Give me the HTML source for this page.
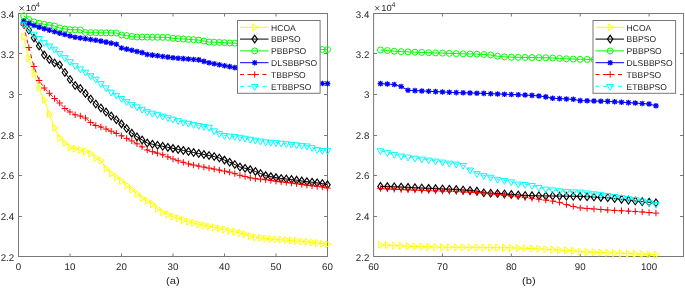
<!DOCTYPE html>
<html><head><meta charset="utf-8"><style>
html,body{margin:0;padding:0;background:#fff;}
svg{display:block;will-change:transform;}
text{text-rendering:geometricPrecision;font-family:"Liberation Sans", sans-serif;font-size:10px;fill:#262626;}
</style></head><body>
<svg width="685" height="288" viewBox="0 0 685 288">
<rect width="685" height="288" fill="#fff"/>
<rect x="18.5" y="13.5" width="309.0" height="243.0" fill="none" stroke="#787878" stroke-width="1"/>
<path d="M70.00,256.5V253.5M70.00,13.5V16.5M121.50,256.5V253.5M121.50,13.5V16.5M173.00,256.5V253.5M173.00,13.5V16.5M224.50,256.5V253.5M224.50,13.5V16.5M276.00,256.5V253.5M276.00,13.5V16.5M18.5,53.50H22.0M327.5,53.50H324.0M18.5,94.50H22.0M327.5,94.50H324.0M18.5,135.50H22.0M327.5,135.50H324.0M18.5,175.50H22.0M327.5,175.50H324.0M18.5,216.50H22.0M327.5,216.50H324.0" stroke="#787878" stroke-width="1"/>
<clipPath id="c18"><rect x="18.5" y="13.5" width="309.0" height="243.0"/></clipPath>
<g clip-path="url(#c18)">
<path d="M23.65,37.00L28.80,58.50L33.95,73.50L39.10,88.00L44.25,100.00L49.40,114.00L54.55,128.00L59.70,138.00L64.85,143.00L70.00,147.50L75.15,148.80L80.30,150.00L85.45,151.40L90.60,153.50L95.75,158.00L100.90,160.50L106.05,168.50L111.20,173.50L116.35,177.25L121.50,181.00L126.65,185.25L131.80,189.50L136.95,193.75L142.10,198.00L147.25,201.00L152.40,204.00L157.55,208.69L162.70,212.37L167.85,214.53L173.00,216.70L178.15,218.37L183.30,220.03L188.45,221.59L193.60,222.87L198.75,224.16L203.90,225.31L209.05,226.34L214.20,227.37L219.35,228.39L224.50,229.52L229.65,230.66L234.80,231.81L239.95,232.96L245.10,234.42L250.25,236.02L255.40,237.41L260.55,237.93L265.70,238.46L270.85,238.99L276.00,239.41L281.15,239.76L286.30,240.11L291.45,240.46L296.60,240.91L301.75,241.42L306.90,241.93L312.05,242.44L317.20,243.00L322.35,243.60L327.50,244.20" fill="none" stroke="#ffff00" stroke-width="1"/>
</g>
<path d="M21.75,33.50L26.95,37.00L21.75,40.50Z" fill="none" stroke="#ffff00" stroke-width="1.0"/><path d="M26.90,55.00L32.10,58.50L26.90,62.00Z" fill="none" stroke="#ffff00" stroke-width="1.0"/><path d="M32.05,70.00L37.25,73.50L32.05,77.00Z" fill="none" stroke="#ffff00" stroke-width="1.0"/><path d="M37.20,84.50L42.40,88.00L37.20,91.50Z" fill="none" stroke="#ffff00" stroke-width="1.0"/><path d="M42.35,96.50L47.55,100.00L42.35,103.50Z" fill="none" stroke="#ffff00" stroke-width="1.0"/><path d="M47.50,110.50L52.70,114.00L47.50,117.50Z" fill="none" stroke="#ffff00" stroke-width="1.0"/><path d="M52.65,124.50L57.85,128.00L52.65,131.50Z" fill="none" stroke="#ffff00" stroke-width="1.0"/><path d="M57.80,134.50L63.00,138.00L57.80,141.50Z" fill="none" stroke="#ffff00" stroke-width="1.0"/><path d="M62.95,139.50L68.15,143.00L62.95,146.50Z" fill="none" stroke="#ffff00" stroke-width="1.0"/><path d="M68.10,144.00L73.30,147.50L68.10,151.00Z" fill="none" stroke="#ffff00" stroke-width="1.0"/><path d="M73.25,145.30L78.45,148.80L73.25,152.30Z" fill="none" stroke="#ffff00" stroke-width="1.0"/><path d="M78.40,146.50L83.60,150.00L78.40,153.50Z" fill="none" stroke="#ffff00" stroke-width="1.0"/><path d="M83.55,147.90L88.75,151.40L83.55,154.90Z" fill="none" stroke="#ffff00" stroke-width="1.0"/><path d="M88.70,150.00L93.90,153.50L88.70,157.00Z" fill="none" stroke="#ffff00" stroke-width="1.0"/><path d="M93.85,154.50L99.05,158.00L93.85,161.50Z" fill="none" stroke="#ffff00" stroke-width="1.0"/><path d="M99.00,157.00L104.20,160.50L99.00,164.00Z" fill="none" stroke="#ffff00" stroke-width="1.0"/><path d="M104.15,165.00L109.35,168.50L104.15,172.00Z" fill="none" stroke="#ffff00" stroke-width="1.0"/><path d="M109.30,170.00L114.50,173.50L109.30,177.00Z" fill="none" stroke="#ffff00" stroke-width="1.0"/><path d="M114.45,173.75L119.65,177.25L114.45,180.75Z" fill="none" stroke="#ffff00" stroke-width="1.0"/><path d="M119.60,177.50L124.80,181.00L119.60,184.50Z" fill="none" stroke="#ffff00" stroke-width="1.0"/><path d="M124.75,181.75L129.95,185.25L124.75,188.75Z" fill="none" stroke="#ffff00" stroke-width="1.0"/><path d="M129.90,186.00L135.10,189.50L129.90,193.00Z" fill="none" stroke="#ffff00" stroke-width="1.0"/><path d="M135.05,190.25L140.25,193.75L135.05,197.25Z" fill="none" stroke="#ffff00" stroke-width="1.0"/><path d="M140.20,194.50L145.40,198.00L140.20,201.50Z" fill="none" stroke="#ffff00" stroke-width="1.0"/><path d="M145.35,197.50L150.55,201.00L145.35,204.50Z" fill="none" stroke="#ffff00" stroke-width="1.0"/><path d="M150.50,200.50L155.70,204.00L150.50,207.50Z" fill="none" stroke="#ffff00" stroke-width="1.0"/><path d="M155.65,205.19L160.85,208.69L155.65,212.19Z" fill="none" stroke="#ffff00" stroke-width="1.0"/><path d="M160.80,208.87L166.00,212.37L160.80,215.87Z" fill="none" stroke="#ffff00" stroke-width="1.0"/><path d="M165.95,211.03L171.15,214.53L165.95,218.03Z" fill="none" stroke="#ffff00" stroke-width="1.0"/><path d="M171.10,213.20L176.30,216.70L171.10,220.20Z" fill="none" stroke="#ffff00" stroke-width="1.0"/><path d="M176.25,214.87L181.45,218.37L176.25,221.87Z" fill="none" stroke="#ffff00" stroke-width="1.0"/><path d="M181.40,216.53L186.60,220.03L181.40,223.53Z" fill="none" stroke="#ffff00" stroke-width="1.0"/><path d="M186.55,218.09L191.75,221.59L186.55,225.09Z" fill="none" stroke="#ffff00" stroke-width="1.0"/><path d="M191.70,219.37L196.90,222.87L191.70,226.37Z" fill="none" stroke="#ffff00" stroke-width="1.0"/><path d="M196.85,220.66L202.05,224.16L196.85,227.66Z" fill="none" stroke="#ffff00" stroke-width="1.0"/><path d="M202.00,221.81L207.20,225.31L202.00,228.81Z" fill="none" stroke="#ffff00" stroke-width="1.0"/><path d="M207.15,222.84L212.35,226.34L207.15,229.84Z" fill="none" stroke="#ffff00" stroke-width="1.0"/><path d="M212.30,223.87L217.50,227.37L212.30,230.87Z" fill="none" stroke="#ffff00" stroke-width="1.0"/><path d="M217.45,224.89L222.65,228.39L217.45,231.89Z" fill="none" stroke="#ffff00" stroke-width="1.0"/><path d="M222.60,226.02L227.80,229.52L222.60,233.02Z" fill="none" stroke="#ffff00" stroke-width="1.0"/><path d="M227.75,227.16L232.95,230.66L227.75,234.16Z" fill="none" stroke="#ffff00" stroke-width="1.0"/><path d="M232.90,228.31L238.10,231.81L232.90,235.31Z" fill="none" stroke="#ffff00" stroke-width="1.0"/><path d="M238.05,229.46L243.25,232.96L238.05,236.46Z" fill="none" stroke="#ffff00" stroke-width="1.0"/><path d="M243.20,230.92L248.40,234.42L243.20,237.92Z" fill="none" stroke="#ffff00" stroke-width="1.0"/><path d="M248.35,232.52L253.55,236.02L248.35,239.52Z" fill="none" stroke="#ffff00" stroke-width="1.0"/><path d="M253.50,233.91L258.70,237.41L253.50,240.91Z" fill="none" stroke="#ffff00" stroke-width="1.0"/><path d="M258.65,234.43L263.85,237.93L258.65,241.43Z" fill="none" stroke="#ffff00" stroke-width="1.0"/><path d="M263.80,234.96L269.00,238.46L263.80,241.96Z" fill="none" stroke="#ffff00" stroke-width="1.0"/><path d="M268.95,235.49L274.15,238.99L268.95,242.49Z" fill="none" stroke="#ffff00" stroke-width="1.0"/><path d="M274.10,235.91L279.30,239.41L274.10,242.91Z" fill="none" stroke="#ffff00" stroke-width="1.0"/><path d="M279.25,236.26L284.45,239.76L279.25,243.26Z" fill="none" stroke="#ffff00" stroke-width="1.0"/><path d="M284.40,236.61L289.60,240.11L284.40,243.61Z" fill="none" stroke="#ffff00" stroke-width="1.0"/><path d="M289.55,236.96L294.75,240.46L289.55,243.96Z" fill="none" stroke="#ffff00" stroke-width="1.0"/><path d="M294.70,237.41L299.90,240.91L294.70,244.41Z" fill="none" stroke="#ffff00" stroke-width="1.0"/><path d="M299.85,237.92L305.05,241.42L299.85,244.92Z" fill="none" stroke="#ffff00" stroke-width="1.0"/><path d="M305.00,238.43L310.20,241.93L305.00,245.43Z" fill="none" stroke="#ffff00" stroke-width="1.0"/><path d="M310.15,238.94L315.35,242.44L310.15,245.94Z" fill="none" stroke="#ffff00" stroke-width="1.0"/><path d="M315.30,239.50L320.50,243.00L315.30,246.50Z" fill="none" stroke="#ffff00" stroke-width="1.0"/><path d="M320.45,240.10L325.65,243.60L320.45,247.10Z" fill="none" stroke="#ffff00" stroke-width="1.0"/><path d="M325.60,240.70L330.80,244.20L325.60,247.70Z" fill="none" stroke="#ffff00" stroke-width="1.0"/>
<g clip-path="url(#c18)">
<path d="M23.65,24.00L28.80,30.00L33.95,38.00L39.10,46.00L44.25,55.00L49.40,59.50L54.55,63.00L59.70,65.00L64.85,72.50L70.00,79.50L75.15,85.50L80.30,88.50L85.45,93.50L90.60,99.00L95.75,104.00L100.90,108.00L106.05,112.00L111.20,116.00L116.35,119.82L121.50,123.89L126.65,128.52L131.80,133.15L136.95,136.84L142.10,139.92L147.25,142.99L152.40,144.23L157.55,145.27L162.70,146.31L167.85,147.34L173.00,148.38L178.15,149.42L183.30,150.46L188.45,151.49L193.60,152.50L198.75,153.50L203.90,154.50L209.05,155.54L214.20,156.58L219.35,158.03L224.50,160.10L229.65,162.18L234.80,164.53L239.95,167.00L245.10,168.30L250.25,169.61L255.40,171.45L260.55,173.53L265.70,175.60L270.85,176.60L276.00,177.60L281.15,178.46L286.30,178.97L291.45,179.49L296.60,180.14L301.75,180.89L306.90,181.63L312.05,182.23L317.20,182.83L322.35,183.55L327.50,184.80" fill="none" stroke="#000000" stroke-width="1"/>
</g>
<path d="M23.65,20.20L26.35,24.00L23.65,27.80L20.95,24.00Z" fill="none" stroke="#000000" stroke-width="1.15"/><path d="M28.80,26.20L31.50,30.00L28.80,33.80L26.10,30.00Z" fill="none" stroke="#000000" stroke-width="1.15"/><path d="M33.95,34.20L36.65,38.00L33.95,41.80L31.25,38.00Z" fill="none" stroke="#000000" stroke-width="1.15"/><path d="M39.10,42.20L41.80,46.00L39.10,49.80L36.40,46.00Z" fill="none" stroke="#000000" stroke-width="1.15"/><path d="M44.25,51.20L46.95,55.00L44.25,58.80L41.55,55.00Z" fill="none" stroke="#000000" stroke-width="1.15"/><path d="M49.40,55.70L52.10,59.50L49.40,63.30L46.70,59.50Z" fill="none" stroke="#000000" stroke-width="1.15"/><path d="M54.55,59.20L57.25,63.00L54.55,66.80L51.85,63.00Z" fill="none" stroke="#000000" stroke-width="1.15"/><path d="M59.70,61.20L62.40,65.00L59.70,68.80L57.00,65.00Z" fill="none" stroke="#000000" stroke-width="1.15"/><path d="M64.85,68.70L67.55,72.50L64.85,76.30L62.15,72.50Z" fill="none" stroke="#000000" stroke-width="1.15"/><path d="M70.00,75.70L72.70,79.50L70.00,83.30L67.30,79.50Z" fill="none" stroke="#000000" stroke-width="1.15"/><path d="M75.15,81.70L77.85,85.50L75.15,89.30L72.45,85.50Z" fill="none" stroke="#000000" stroke-width="1.15"/><path d="M80.30,84.70L83.00,88.50L80.30,92.30L77.60,88.50Z" fill="none" stroke="#000000" stroke-width="1.15"/><path d="M85.45,89.70L88.15,93.50L85.45,97.30L82.75,93.50Z" fill="none" stroke="#000000" stroke-width="1.15"/><path d="M90.60,95.20L93.30,99.00L90.60,102.80L87.90,99.00Z" fill="none" stroke="#000000" stroke-width="1.15"/><path d="M95.75,100.20L98.45,104.00L95.75,107.80L93.05,104.00Z" fill="none" stroke="#000000" stroke-width="1.15"/><path d="M100.90,104.20L103.60,108.00L100.90,111.80L98.20,108.00Z" fill="none" stroke="#000000" stroke-width="1.15"/><path d="M106.05,108.20L108.75,112.00L106.05,115.80L103.35,112.00Z" fill="none" stroke="#000000" stroke-width="1.15"/><path d="M111.20,112.20L113.90,116.00L111.20,119.80L108.50,116.00Z" fill="none" stroke="#000000" stroke-width="1.15"/><path d="M116.35,116.02L119.05,119.82L116.35,123.62L113.65,119.82Z" fill="none" stroke="#000000" stroke-width="1.15"/><path d="M121.50,120.09L124.20,123.89L121.50,127.69L118.80,123.89Z" fill="none" stroke="#000000" stroke-width="1.15"/><path d="M126.65,124.72L129.35,128.52L126.65,132.32L123.95,128.52Z" fill="none" stroke="#000000" stroke-width="1.15"/><path d="M131.80,129.35L134.50,133.15L131.80,136.95L129.10,133.15Z" fill="none" stroke="#000000" stroke-width="1.15"/><path d="M136.95,133.04L139.65,136.84L136.95,140.64L134.25,136.84Z" fill="none" stroke="#000000" stroke-width="1.15"/><path d="M142.10,136.12L144.80,139.92L142.10,143.72L139.40,139.92Z" fill="none" stroke="#000000" stroke-width="1.15"/><path d="M147.25,139.19L149.95,142.99L147.25,146.79L144.55,142.99Z" fill="none" stroke="#000000" stroke-width="1.15"/><path d="M152.40,140.43L155.10,144.23L152.40,148.03L149.70,144.23Z" fill="none" stroke="#000000" stroke-width="1.15"/><path d="M157.55,141.47L160.25,145.27L157.55,149.07L154.85,145.27Z" fill="none" stroke="#000000" stroke-width="1.15"/><path d="M162.70,142.51L165.40,146.31L162.70,150.11L160.00,146.31Z" fill="none" stroke="#000000" stroke-width="1.15"/><path d="M167.85,143.54L170.55,147.34L167.85,151.14L165.15,147.34Z" fill="none" stroke="#000000" stroke-width="1.15"/><path d="M173.00,144.58L175.70,148.38L173.00,152.18L170.30,148.38Z" fill="none" stroke="#000000" stroke-width="1.15"/><path d="M178.15,145.62L180.85,149.42L178.15,153.22L175.45,149.42Z" fill="none" stroke="#000000" stroke-width="1.15"/><path d="M183.30,146.66L186.00,150.46L183.30,154.26L180.60,150.46Z" fill="none" stroke="#000000" stroke-width="1.15"/><path d="M188.45,147.69L191.15,151.49L188.45,155.29L185.75,151.49Z" fill="none" stroke="#000000" stroke-width="1.15"/><path d="M193.60,148.70L196.30,152.50L193.60,156.30L190.90,152.50Z" fill="none" stroke="#000000" stroke-width="1.15"/><path d="M198.75,149.70L201.45,153.50L198.75,157.30L196.05,153.50Z" fill="none" stroke="#000000" stroke-width="1.15"/><path d="M203.90,150.70L206.60,154.50L203.90,158.30L201.20,154.50Z" fill="none" stroke="#000000" stroke-width="1.15"/><path d="M209.05,151.74L211.75,155.54L209.05,159.34L206.35,155.54Z" fill="none" stroke="#000000" stroke-width="1.15"/><path d="M214.20,152.78L216.90,156.58L214.20,160.38L211.50,156.58Z" fill="none" stroke="#000000" stroke-width="1.15"/><path d="M219.35,154.23L222.05,158.03L219.35,161.83L216.65,158.03Z" fill="none" stroke="#000000" stroke-width="1.15"/><path d="M224.50,156.30L227.20,160.10L224.50,163.90L221.80,160.10Z" fill="none" stroke="#000000" stroke-width="1.15"/><path d="M229.65,158.38L232.35,162.18L229.65,165.98L226.95,162.18Z" fill="none" stroke="#000000" stroke-width="1.15"/><path d="M234.80,160.73L237.50,164.53L234.80,168.33L232.10,164.53Z" fill="none" stroke="#000000" stroke-width="1.15"/><path d="M239.95,163.20L242.65,167.00L239.95,170.80L237.25,167.00Z" fill="none" stroke="#000000" stroke-width="1.15"/><path d="M245.10,164.50L247.80,168.30L245.10,172.10L242.40,168.30Z" fill="none" stroke="#000000" stroke-width="1.15"/><path d="M250.25,165.81L252.95,169.61L250.25,173.41L247.55,169.61Z" fill="none" stroke="#000000" stroke-width="1.15"/><path d="M255.40,167.65L258.10,171.45L255.40,175.25L252.70,171.45Z" fill="none" stroke="#000000" stroke-width="1.15"/><path d="M260.55,169.73L263.25,173.53L260.55,177.33L257.85,173.53Z" fill="none" stroke="#000000" stroke-width="1.15"/><path d="M265.70,171.80L268.40,175.60L265.70,179.40L263.00,175.60Z" fill="none" stroke="#000000" stroke-width="1.15"/><path d="M270.85,172.80L273.55,176.60L270.85,180.40L268.15,176.60Z" fill="none" stroke="#000000" stroke-width="1.15"/><path d="M276.00,173.80L278.70,177.60L276.00,181.40L273.30,177.60Z" fill="none" stroke="#000000" stroke-width="1.15"/><path d="M281.15,174.66L283.85,178.46L281.15,182.26L278.45,178.46Z" fill="none" stroke="#000000" stroke-width="1.15"/><path d="M286.30,175.17L289.00,178.97L286.30,182.77L283.60,178.97Z" fill="none" stroke="#000000" stroke-width="1.15"/><path d="M291.45,175.69L294.15,179.49L291.45,183.29L288.75,179.49Z" fill="none" stroke="#000000" stroke-width="1.15"/><path d="M296.60,176.34L299.30,180.14L296.60,183.94L293.90,180.14Z" fill="none" stroke="#000000" stroke-width="1.15"/><path d="M301.75,177.09L304.45,180.89L301.75,184.69L299.05,180.89Z" fill="none" stroke="#000000" stroke-width="1.15"/><path d="M306.90,177.83L309.60,181.63L306.90,185.43L304.20,181.63Z" fill="none" stroke="#000000" stroke-width="1.15"/><path d="M312.05,178.43L314.75,182.23L312.05,186.03L309.35,182.23Z" fill="none" stroke="#000000" stroke-width="1.15"/><path d="M317.20,179.03L319.90,182.83L317.20,186.63L314.50,182.83Z" fill="none" stroke="#000000" stroke-width="1.15"/><path d="M322.35,179.75L325.05,183.55L322.35,187.35L319.65,183.55Z" fill="none" stroke="#000000" stroke-width="1.15"/><path d="M327.50,181.00L330.20,184.80L327.50,188.60L324.80,184.80Z" fill="none" stroke="#000000" stroke-width="1.15"/>
<g clip-path="url(#c18)">
<path d="M23.65,15.80L28.80,19.60L33.95,21.90L39.10,23.40L44.25,24.30L49.40,25.20L54.55,26.00L59.70,28.00L64.85,29.00L70.00,29.70L75.15,29.80L80.30,29.90L85.45,32.60L90.60,32.67L95.75,32.73L100.90,32.80L106.05,32.87L111.20,32.93L116.35,33.00L121.50,35.00L126.65,35.60L131.80,36.53L136.95,37.03L142.10,37.09L147.25,37.15L152.40,37.22L157.55,37.28L162.70,37.34L167.85,37.40L173.00,38.30L178.15,38.66L183.30,39.02L188.45,39.38L193.60,39.74L198.75,40.10L203.90,41.05L209.05,42.00L214.20,42.24L219.35,42.48L224.50,42.72L229.65,42.96L234.80,43.20L239.95,43.57L245.10,43.94L250.25,44.31L255.40,44.68L260.55,45.05L265.70,45.42L270.85,45.79L276.00,46.16L281.15,46.54L286.30,46.91L291.45,47.28L296.60,47.65L301.75,48.02L306.90,48.39L312.05,48.76L317.20,49.13L322.35,49.50L327.50,49.60" fill="none" stroke="#00ff00" stroke-width="1"/>
</g>
<circle cx="23.65" cy="15.80" r="3.0" fill="none" stroke="#00ff00" stroke-width="1.0"/><circle cx="28.80" cy="19.60" r="3.0" fill="none" stroke="#00ff00" stroke-width="1.0"/><circle cx="33.95" cy="21.90" r="3.0" fill="none" stroke="#00ff00" stroke-width="1.0"/><circle cx="39.10" cy="23.40" r="3.0" fill="none" stroke="#00ff00" stroke-width="1.0"/><circle cx="44.25" cy="24.30" r="3.0" fill="none" stroke="#00ff00" stroke-width="1.0"/><circle cx="49.40" cy="25.20" r="3.0" fill="none" stroke="#00ff00" stroke-width="1.0"/><circle cx="54.55" cy="26.00" r="3.0" fill="none" stroke="#00ff00" stroke-width="1.0"/><circle cx="59.70" cy="28.00" r="3.0" fill="none" stroke="#00ff00" stroke-width="1.0"/><circle cx="64.85" cy="29.00" r="3.0" fill="none" stroke="#00ff00" stroke-width="1.0"/><circle cx="70.00" cy="29.70" r="3.0" fill="none" stroke="#00ff00" stroke-width="1.0"/><circle cx="75.15" cy="29.80" r="3.0" fill="none" stroke="#00ff00" stroke-width="1.0"/><circle cx="80.30" cy="29.90" r="3.0" fill="none" stroke="#00ff00" stroke-width="1.0"/><circle cx="85.45" cy="32.60" r="3.0" fill="none" stroke="#00ff00" stroke-width="1.0"/><circle cx="90.60" cy="32.67" r="3.0" fill="none" stroke="#00ff00" stroke-width="1.0"/><circle cx="95.75" cy="32.73" r="3.0" fill="none" stroke="#00ff00" stroke-width="1.0"/><circle cx="100.90" cy="32.80" r="3.0" fill="none" stroke="#00ff00" stroke-width="1.0"/><circle cx="106.05" cy="32.87" r="3.0" fill="none" stroke="#00ff00" stroke-width="1.0"/><circle cx="111.20" cy="32.93" r="3.0" fill="none" stroke="#00ff00" stroke-width="1.0"/><circle cx="116.35" cy="33.00" r="3.0" fill="none" stroke="#00ff00" stroke-width="1.0"/><circle cx="121.50" cy="35.00" r="3.0" fill="none" stroke="#00ff00" stroke-width="1.0"/><circle cx="126.65" cy="35.60" r="3.0" fill="none" stroke="#00ff00" stroke-width="1.0"/><circle cx="131.80" cy="36.53" r="3.0" fill="none" stroke="#00ff00" stroke-width="1.0"/><circle cx="136.95" cy="37.03" r="3.0" fill="none" stroke="#00ff00" stroke-width="1.0"/><circle cx="142.10" cy="37.09" r="3.0" fill="none" stroke="#00ff00" stroke-width="1.0"/><circle cx="147.25" cy="37.15" r="3.0" fill="none" stroke="#00ff00" stroke-width="1.0"/><circle cx="152.40" cy="37.22" r="3.0" fill="none" stroke="#00ff00" stroke-width="1.0"/><circle cx="157.55" cy="37.28" r="3.0" fill="none" stroke="#00ff00" stroke-width="1.0"/><circle cx="162.70" cy="37.34" r="3.0" fill="none" stroke="#00ff00" stroke-width="1.0"/><circle cx="167.85" cy="37.40" r="3.0" fill="none" stroke="#00ff00" stroke-width="1.0"/><circle cx="173.00" cy="38.30" r="3.0" fill="none" stroke="#00ff00" stroke-width="1.0"/><circle cx="178.15" cy="38.66" r="3.0" fill="none" stroke="#00ff00" stroke-width="1.0"/><circle cx="183.30" cy="39.02" r="3.0" fill="none" stroke="#00ff00" stroke-width="1.0"/><circle cx="188.45" cy="39.38" r="3.0" fill="none" stroke="#00ff00" stroke-width="1.0"/><circle cx="193.60" cy="39.74" r="3.0" fill="none" stroke="#00ff00" stroke-width="1.0"/><circle cx="198.75" cy="40.10" r="3.0" fill="none" stroke="#00ff00" stroke-width="1.0"/><circle cx="203.90" cy="41.05" r="3.0" fill="none" stroke="#00ff00" stroke-width="1.0"/><circle cx="209.05" cy="42.00" r="3.0" fill="none" stroke="#00ff00" stroke-width="1.0"/><circle cx="214.20" cy="42.24" r="3.0" fill="none" stroke="#00ff00" stroke-width="1.0"/><circle cx="219.35" cy="42.48" r="3.0" fill="none" stroke="#00ff00" stroke-width="1.0"/><circle cx="224.50" cy="42.72" r="3.0" fill="none" stroke="#00ff00" stroke-width="1.0"/><circle cx="229.65" cy="42.96" r="3.0" fill="none" stroke="#00ff00" stroke-width="1.0"/><circle cx="234.80" cy="43.20" r="3.0" fill="none" stroke="#00ff00" stroke-width="1.0"/><circle cx="239.95" cy="43.57" r="3.0" fill="none" stroke="#00ff00" stroke-width="1.0"/><circle cx="245.10" cy="43.94" r="3.0" fill="none" stroke="#00ff00" stroke-width="1.0"/><circle cx="250.25" cy="44.31" r="3.0" fill="none" stroke="#00ff00" stroke-width="1.0"/><circle cx="255.40" cy="44.68" r="3.0" fill="none" stroke="#00ff00" stroke-width="1.0"/><circle cx="260.55" cy="45.05" r="3.0" fill="none" stroke="#00ff00" stroke-width="1.0"/><circle cx="265.70" cy="45.42" r="3.0" fill="none" stroke="#00ff00" stroke-width="1.0"/><circle cx="270.85" cy="45.79" r="3.0" fill="none" stroke="#00ff00" stroke-width="1.0"/><circle cx="276.00" cy="46.16" r="3.0" fill="none" stroke="#00ff00" stroke-width="1.0"/><circle cx="281.15" cy="46.54" r="3.0" fill="none" stroke="#00ff00" stroke-width="1.0"/><circle cx="286.30" cy="46.91" r="3.0" fill="none" stroke="#00ff00" stroke-width="1.0"/><circle cx="291.45" cy="47.28" r="3.0" fill="none" stroke="#00ff00" stroke-width="1.0"/><circle cx="296.60" cy="47.65" r="3.0" fill="none" stroke="#00ff00" stroke-width="1.0"/><circle cx="301.75" cy="48.02" r="3.0" fill="none" stroke="#00ff00" stroke-width="1.0"/><circle cx="306.90" cy="48.39" r="3.0" fill="none" stroke="#00ff00" stroke-width="1.0"/><circle cx="312.05" cy="48.76" r="3.0" fill="none" stroke="#00ff00" stroke-width="1.0"/><circle cx="317.20" cy="49.13" r="3.0" fill="none" stroke="#00ff00" stroke-width="1.0"/><circle cx="322.35" cy="49.50" r="3.0" fill="none" stroke="#00ff00" stroke-width="1.0"/><circle cx="327.50" cy="49.60" r="3.0" fill="none" stroke="#00ff00" stroke-width="1.0"/>
<g clip-path="url(#c18)">
<path d="M23.65,21.20L28.80,23.35L33.95,25.50L39.10,27.15L44.25,28.80L49.40,30.27L54.55,31.73L59.70,33.20L64.85,34.57L70.00,35.93L75.15,37.30L80.30,38.00L85.45,38.77L90.60,39.55L95.75,40.33L100.90,41.10L106.05,42.13L111.20,43.17L116.35,44.20L121.50,48.00L126.65,49.15L131.80,50.30L136.95,51.45L142.10,52.60L147.25,54.50L152.40,55.16L157.55,55.82L162.70,56.48L167.85,57.14L173.00,57.80L178.15,58.22L183.30,58.64L188.45,59.06L193.60,59.48L198.75,59.90L203.90,61.35L209.05,62.80L214.20,63.76L219.35,64.72L224.50,65.68L229.65,66.64L234.80,67.60L239.95,68.54L245.10,69.47L250.25,70.41L255.40,71.34L260.55,72.28L265.70,73.21L270.85,74.15L276.00,75.08L281.15,76.02L286.30,76.95L291.45,77.89L296.60,78.82L301.75,79.76L306.90,80.69L312.05,81.63L317.20,82.56L322.35,83.50L327.50,83.60" fill="none" stroke="#0000ff" stroke-width="1"/>
</g>
<path d="M20.85,21.20H26.45M23.65,18.40V24.00M21.55,19.10L25.75,23.30M21.55,23.30L25.75,19.10" stroke="#0000ff" stroke-width="1.25"/><path d="M26.00,23.35H31.60M28.80,20.55V26.15M26.70,21.25L30.90,25.45M26.70,25.45L30.90,21.25" stroke="#0000ff" stroke-width="1.25"/><path d="M31.15,25.50H36.75M33.95,22.70V28.30M31.85,23.40L36.05,27.60M31.85,27.60L36.05,23.40" stroke="#0000ff" stroke-width="1.25"/><path d="M36.30,27.15H41.90M39.10,24.35V29.95M37.00,25.05L41.20,29.25M37.00,29.25L41.20,25.05" stroke="#0000ff" stroke-width="1.25"/><path d="M41.45,28.80H47.05M44.25,26.00V31.60M42.15,26.70L46.35,30.90M42.15,30.90L46.35,26.70" stroke="#0000ff" stroke-width="1.25"/><path d="M46.60,30.27H52.20M49.40,27.47V33.07M47.30,28.17L51.50,32.37M47.30,32.37L51.50,28.17" stroke="#0000ff" stroke-width="1.25"/><path d="M51.75,31.73H57.35M54.55,28.93V34.53M52.45,29.63L56.65,33.83M52.45,33.83L56.65,29.63" stroke="#0000ff" stroke-width="1.25"/><path d="M56.90,33.20H62.50M59.70,30.40V36.00M57.60,31.10L61.80,35.30M57.60,35.30L61.80,31.10" stroke="#0000ff" stroke-width="1.25"/><path d="M62.05,34.57H67.65M64.85,31.77V37.37M62.75,32.47L66.95,36.67M62.75,36.67L66.95,32.47" stroke="#0000ff" stroke-width="1.25"/><path d="M67.20,35.93H72.80M70.00,33.13V38.73M67.90,33.83L72.10,38.03M67.90,38.03L72.10,33.83" stroke="#0000ff" stroke-width="1.25"/><path d="M72.35,37.30H77.95M75.15,34.50V40.10M73.05,35.20L77.25,39.40M73.05,39.40L77.25,35.20" stroke="#0000ff" stroke-width="1.25"/><path d="M77.50,38.00H83.10M80.30,35.20V40.80M78.20,35.90L82.40,40.10M78.20,40.10L82.40,35.90" stroke="#0000ff" stroke-width="1.25"/><path d="M82.65,38.77H88.25M85.45,35.98V41.57M83.35,36.67L87.55,40.88M83.35,40.88L87.55,36.67" stroke="#0000ff" stroke-width="1.25"/><path d="M87.80,39.55H93.40M90.60,36.75V42.35M88.50,37.45L92.70,41.65M88.50,41.65L92.70,37.45" stroke="#0000ff" stroke-width="1.25"/><path d="M92.95,40.33H98.55M95.75,37.53V43.12M93.65,38.23L97.85,42.43M93.65,42.43L97.85,38.23" stroke="#0000ff" stroke-width="1.25"/><path d="M98.10,41.10H103.70M100.90,38.30V43.90M98.80,39.00L103.00,43.20M98.80,43.20L103.00,39.00" stroke="#0000ff" stroke-width="1.25"/><path d="M103.25,42.13H108.85M106.05,39.33V44.93M103.95,40.03L108.15,44.23M103.95,44.23L108.15,40.03" stroke="#0000ff" stroke-width="1.25"/><path d="M108.40,43.17H114.00M111.20,40.37V45.97M109.10,41.07L113.30,45.27M109.10,45.27L113.30,41.07" stroke="#0000ff" stroke-width="1.25"/><path d="M113.55,44.20H119.15M116.35,41.40V47.00M114.25,42.10L118.45,46.30M114.25,46.30L118.45,42.10" stroke="#0000ff" stroke-width="1.25"/><path d="M118.70,48.00H124.30M121.50,45.20V50.80M119.40,45.90L123.60,50.10M119.40,50.10L123.60,45.90" stroke="#0000ff" stroke-width="1.25"/><path d="M123.85,49.15H129.45M126.65,46.35V51.95M124.55,47.05L128.75,51.25M124.55,51.25L128.75,47.05" stroke="#0000ff" stroke-width="1.25"/><path d="M129.00,50.30H134.60M131.80,47.50V53.10M129.70,48.20L133.90,52.40M129.70,52.40L133.90,48.20" stroke="#0000ff" stroke-width="1.25"/><path d="M134.15,51.45H139.75M136.95,48.65V54.25M134.85,49.35L139.05,53.55M134.85,53.55L139.05,49.35" stroke="#0000ff" stroke-width="1.25"/><path d="M139.30,52.60H144.90M142.10,49.80V55.40M140.00,50.50L144.20,54.70M140.00,54.70L144.20,50.50" stroke="#0000ff" stroke-width="1.25"/><path d="M144.45,54.50H150.05M147.25,51.70V57.30M145.15,52.40L149.35,56.60M145.15,56.60L149.35,52.40" stroke="#0000ff" stroke-width="1.25"/><path d="M149.60,55.16H155.20M152.40,52.36V57.96M150.30,53.06L154.50,57.26M150.30,57.26L154.50,53.06" stroke="#0000ff" stroke-width="1.25"/><path d="M154.75,55.82H160.35M157.55,53.02V58.62M155.45,53.72L159.65,57.92M155.45,57.92L159.65,53.72" stroke="#0000ff" stroke-width="1.25"/><path d="M159.90,56.48H165.50M162.70,53.68V59.28M160.60,54.38L164.80,58.58M160.60,58.58L164.80,54.38" stroke="#0000ff" stroke-width="1.25"/><path d="M165.05,57.14H170.65M167.85,54.34V59.94M165.75,55.04L169.95,59.24M165.75,59.24L169.95,55.04" stroke="#0000ff" stroke-width="1.25"/><path d="M170.20,57.80H175.80M173.00,55.00V60.60M170.90,55.70L175.10,59.90M170.90,59.90L175.10,55.70" stroke="#0000ff" stroke-width="1.25"/><path d="M175.35,58.22H180.95M178.15,55.42V61.02M176.05,56.12L180.25,60.32M176.05,60.32L180.25,56.12" stroke="#0000ff" stroke-width="1.25"/><path d="M180.50,58.64H186.10M183.30,55.84V61.44M181.20,56.54L185.40,60.74M181.20,60.74L185.40,56.54" stroke="#0000ff" stroke-width="1.25"/><path d="M185.65,59.06H191.25M188.45,56.26V61.86M186.35,56.96L190.55,61.16M186.35,61.16L190.55,56.96" stroke="#0000ff" stroke-width="1.25"/><path d="M190.80,59.48H196.40M193.60,56.68V62.28M191.50,57.38L195.70,61.58M191.50,61.58L195.70,57.38" stroke="#0000ff" stroke-width="1.25"/><path d="M195.95,59.90H201.55M198.75,57.10V62.70M196.65,57.80L200.85,62.00M196.65,62.00L200.85,57.80" stroke="#0000ff" stroke-width="1.25"/><path d="M201.10,61.35H206.70M203.90,58.55V64.15M201.80,59.25L206.00,63.45M201.80,63.45L206.00,59.25" stroke="#0000ff" stroke-width="1.25"/><path d="M206.25,62.80H211.85M209.05,60.00V65.60M206.95,60.70L211.15,64.90M206.95,64.90L211.15,60.70" stroke="#0000ff" stroke-width="1.25"/><path d="M211.40,63.76H217.00M214.20,60.96V66.56M212.10,61.66L216.30,65.86M212.10,65.86L216.30,61.66" stroke="#0000ff" stroke-width="1.25"/><path d="M216.55,64.72H222.15M219.35,61.92V67.52M217.25,62.62L221.45,66.82M217.25,66.82L221.45,62.62" stroke="#0000ff" stroke-width="1.25"/><path d="M221.70,65.68H227.30M224.50,62.88V68.48M222.40,63.58L226.60,67.78M222.40,67.78L226.60,63.58" stroke="#0000ff" stroke-width="1.25"/><path d="M226.85,66.64H232.45M229.65,63.84V69.44M227.55,64.54L231.75,68.74M227.55,68.74L231.75,64.54" stroke="#0000ff" stroke-width="1.25"/><path d="M232.00,67.60H237.60M234.80,64.80V70.40M232.70,65.50L236.90,69.70M232.70,69.70L236.90,65.50" stroke="#0000ff" stroke-width="1.25"/><path d="M237.15,68.54H242.75M239.95,65.74V71.34M237.85,66.44L242.05,70.64M237.85,70.64L242.05,66.44" stroke="#0000ff" stroke-width="1.25"/><path d="M242.30,69.47H247.90M245.10,66.67V72.27M243.00,67.37L247.20,71.57M243.00,71.57L247.20,67.37" stroke="#0000ff" stroke-width="1.25"/><path d="M247.45,70.41H253.05M250.25,67.61V73.21M248.15,68.31L252.35,72.51M248.15,72.51L252.35,68.31" stroke="#0000ff" stroke-width="1.25"/><path d="M252.60,71.34H258.20M255.40,68.54V74.14M253.30,69.24L257.50,73.44M253.30,73.44L257.50,69.24" stroke="#0000ff" stroke-width="1.25"/><path d="M257.75,72.28H263.35M260.55,69.48V75.08M258.45,70.18L262.65,74.38M258.45,74.38L262.65,70.18" stroke="#0000ff" stroke-width="1.25"/><path d="M262.90,73.21H268.50M265.70,70.41V76.01M263.60,71.11L267.80,75.31M263.60,75.31L267.80,71.11" stroke="#0000ff" stroke-width="1.25"/><path d="M268.05,74.15H273.65M270.85,71.35V76.95M268.75,72.05L272.95,76.25M268.75,76.25L272.95,72.05" stroke="#0000ff" stroke-width="1.25"/><path d="M273.20,75.08H278.80M276.00,72.28V77.88M273.90,72.98L278.10,77.18M273.90,77.18L278.10,72.98" stroke="#0000ff" stroke-width="1.25"/><path d="M278.35,76.02H283.95M281.15,73.22V78.82M279.05,73.92L283.25,78.12M279.05,78.12L283.25,73.92" stroke="#0000ff" stroke-width="1.25"/><path d="M283.50,76.95H289.10M286.30,74.15V79.75M284.20,74.85L288.40,79.05M284.20,79.05L288.40,74.85" stroke="#0000ff" stroke-width="1.25"/><path d="M288.65,77.89H294.25M291.45,75.09V80.69M289.35,75.79L293.55,79.99M289.35,79.99L293.55,75.79" stroke="#0000ff" stroke-width="1.25"/><path d="M293.80,78.82H299.40M296.60,76.02V81.62M294.50,76.72L298.70,80.92M294.50,80.92L298.70,76.72" stroke="#0000ff" stroke-width="1.25"/><path d="M298.95,79.76H304.55M301.75,76.96V82.56M299.65,77.66L303.85,81.86M299.65,81.86L303.85,77.66" stroke="#0000ff" stroke-width="1.25"/><path d="M304.10,80.69H309.70M306.90,77.89V83.49M304.80,78.59L309.00,82.79M304.80,82.79L309.00,78.59" stroke="#0000ff" stroke-width="1.25"/><path d="M309.25,81.63H314.85M312.05,78.83V84.43M309.95,79.53L314.15,83.73M309.95,83.73L314.15,79.53" stroke="#0000ff" stroke-width="1.25"/><path d="M314.40,82.56H320.00M317.20,79.76V85.36M315.10,80.46L319.30,84.66M315.10,84.66L319.30,80.46" stroke="#0000ff" stroke-width="1.25"/><path d="M319.55,83.50H325.15M322.35,80.70V86.30M320.25,81.40L324.45,85.60M320.25,85.60L324.45,81.40" stroke="#0000ff" stroke-width="1.25"/><path d="M324.70,83.60H330.30M327.50,80.80V86.40M325.40,81.50L329.60,85.70M325.40,85.70L329.60,81.50" stroke="#0000ff" stroke-width="1.25"/>
<g clip-path="url(#c18)">
<path d="M23.65,25.00L28.80,47.50L33.95,66.50L39.10,80.50L44.25,88.00L49.40,93.30L54.55,98.50L59.70,103.00L64.85,108.50L70.00,112.00L75.15,114.80L80.30,116.00L85.45,118.00L90.60,122.50L95.75,125.50L100.90,127.03L106.05,129.03L111.20,131.23L116.35,133.41L121.50,135.78L126.65,138.37L131.80,140.96L136.95,143.84L142.10,146.92L147.25,149.99L152.40,151.67L157.55,153.19L162.70,154.81L167.85,156.89L173.00,158.96L178.15,160.78L183.30,162.33L188.45,163.89L193.60,165.03L198.75,166.07L203.90,167.10L209.05,168.10L214.20,169.10L219.35,170.11L224.50,171.15L229.65,172.19L234.80,173.65L239.95,175.30L245.10,176.60L250.25,177.91L255.40,178.66L260.55,179.18L265.70,179.70L270.85,180.44L276.00,181.18L281.15,181.88L286.30,182.47L291.45,183.06L296.60,183.74L301.75,184.49L306.90,185.23L312.05,185.77L317.20,186.29L322.35,186.92L327.50,188.00" fill="none" stroke="#ff0000" stroke-width="1" stroke-dasharray="4,3.5"/>
</g>
<path d="M20.45,25.00H26.85M23.65,21.80V28.20" stroke="#ff0000" stroke-width="1.0"/><path d="M25.60,47.50H32.00M28.80,44.30V50.70" stroke="#ff0000" stroke-width="1.0"/><path d="M30.75,66.50H37.15M33.95,63.30V69.70" stroke="#ff0000" stroke-width="1.0"/><path d="M35.90,80.50H42.30M39.10,77.30V83.70" stroke="#ff0000" stroke-width="1.0"/><path d="M41.05,88.00H47.45M44.25,84.80V91.20" stroke="#ff0000" stroke-width="1.0"/><path d="M46.20,93.30H52.60M49.40,90.10V96.50" stroke="#ff0000" stroke-width="1.0"/><path d="M51.35,98.50H57.75M54.55,95.30V101.70" stroke="#ff0000" stroke-width="1.0"/><path d="M56.50,103.00H62.90M59.70,99.80V106.20" stroke="#ff0000" stroke-width="1.0"/><path d="M61.65,108.50H68.05M64.85,105.30V111.70" stroke="#ff0000" stroke-width="1.0"/><path d="M66.80,112.00H73.20M70.00,108.80V115.20" stroke="#ff0000" stroke-width="1.0"/><path d="M71.95,114.80H78.35M75.15,111.60V118.00" stroke="#ff0000" stroke-width="1.0"/><path d="M77.10,116.00H83.50M80.30,112.80V119.20" stroke="#ff0000" stroke-width="1.0"/><path d="M82.25,118.00H88.65M85.45,114.80V121.20" stroke="#ff0000" stroke-width="1.0"/><path d="M87.40,122.50H93.80M90.60,119.30V125.70" stroke="#ff0000" stroke-width="1.0"/><path d="M92.55,125.50H98.95M95.75,122.30V128.70" stroke="#ff0000" stroke-width="1.0"/><path d="M97.70,127.03H104.10M100.90,123.83V130.23" stroke="#ff0000" stroke-width="1.0"/><path d="M102.85,129.03H109.25M106.05,125.83V132.23" stroke="#ff0000" stroke-width="1.0"/><path d="M108.00,131.23H114.40M111.20,128.03V134.43" stroke="#ff0000" stroke-width="1.0"/><path d="M113.15,133.41H119.55M116.35,130.21V136.61" stroke="#ff0000" stroke-width="1.0"/><path d="M118.30,135.78H124.70M121.50,132.58V138.98" stroke="#ff0000" stroke-width="1.0"/><path d="M123.45,138.37H129.85M126.65,135.17V141.57" stroke="#ff0000" stroke-width="1.0"/><path d="M128.60,140.96H135.00M131.80,137.76V144.16" stroke="#ff0000" stroke-width="1.0"/><path d="M133.75,143.84H140.15M136.95,140.64V147.04" stroke="#ff0000" stroke-width="1.0"/><path d="M138.90,146.92H145.30M142.10,143.72V150.12" stroke="#ff0000" stroke-width="1.0"/><path d="M144.05,149.99H150.45M147.25,146.79V153.19" stroke="#ff0000" stroke-width="1.0"/><path d="M149.20,151.67H155.60M152.40,148.47V154.87" stroke="#ff0000" stroke-width="1.0"/><path d="M154.35,153.19H160.75M157.55,149.99V156.39" stroke="#ff0000" stroke-width="1.0"/><path d="M159.50,154.81H165.90M162.70,151.61V158.01" stroke="#ff0000" stroke-width="1.0"/><path d="M164.65,156.89H171.05M167.85,153.69V160.09" stroke="#ff0000" stroke-width="1.0"/><path d="M169.80,158.96H176.20M173.00,155.76V162.16" stroke="#ff0000" stroke-width="1.0"/><path d="M174.95,160.78H181.35M178.15,157.58V163.98" stroke="#ff0000" stroke-width="1.0"/><path d="M180.10,162.33H186.50M183.30,159.13V165.53" stroke="#ff0000" stroke-width="1.0"/><path d="M185.25,163.89H191.65M188.45,160.69V167.09" stroke="#ff0000" stroke-width="1.0"/><path d="M190.40,165.03H196.80M193.60,161.83V168.23" stroke="#ff0000" stroke-width="1.0"/><path d="M195.55,166.07H201.95M198.75,162.87V169.27" stroke="#ff0000" stroke-width="1.0"/><path d="M200.70,167.10H207.10M203.90,163.90V170.30" stroke="#ff0000" stroke-width="1.0"/><path d="M205.85,168.10H212.25M209.05,164.90V171.30" stroke="#ff0000" stroke-width="1.0"/><path d="M211.00,169.10H217.40M214.20,165.90V172.30" stroke="#ff0000" stroke-width="1.0"/><path d="M216.15,170.11H222.55M219.35,166.91V173.31" stroke="#ff0000" stroke-width="1.0"/><path d="M221.30,171.15H227.70M224.50,167.95V174.35" stroke="#ff0000" stroke-width="1.0"/><path d="M226.45,172.19H232.85M229.65,168.99V175.39" stroke="#ff0000" stroke-width="1.0"/><path d="M231.60,173.65H238.00M234.80,170.45V176.85" stroke="#ff0000" stroke-width="1.0"/><path d="M236.75,175.30H243.15M239.95,172.10V178.50" stroke="#ff0000" stroke-width="1.0"/><path d="M241.90,176.60H248.30M245.10,173.40V179.80" stroke="#ff0000" stroke-width="1.0"/><path d="M247.05,177.91H253.45M250.25,174.71V181.11" stroke="#ff0000" stroke-width="1.0"/><path d="M252.20,178.66H258.60M255.40,175.46V181.86" stroke="#ff0000" stroke-width="1.0"/><path d="M257.35,179.18H263.75M260.55,175.98V182.38" stroke="#ff0000" stroke-width="1.0"/><path d="M262.50,179.70H268.90M265.70,176.50V182.90" stroke="#ff0000" stroke-width="1.0"/><path d="M267.65,180.44H274.05M270.85,177.24V183.64" stroke="#ff0000" stroke-width="1.0"/><path d="M272.80,181.18H279.20M276.00,177.98V184.38" stroke="#ff0000" stroke-width="1.0"/><path d="M277.95,181.88H284.35M281.15,178.68V185.08" stroke="#ff0000" stroke-width="1.0"/><path d="M283.10,182.47H289.50M286.30,179.27V185.67" stroke="#ff0000" stroke-width="1.0"/><path d="M288.25,183.06H294.65M291.45,179.86V186.26" stroke="#ff0000" stroke-width="1.0"/><path d="M293.40,183.74H299.80M296.60,180.54V186.94" stroke="#ff0000" stroke-width="1.0"/><path d="M298.55,184.49H304.95M301.75,181.29V187.69" stroke="#ff0000" stroke-width="1.0"/><path d="M303.70,185.23H310.10M306.90,182.03V188.43" stroke="#ff0000" stroke-width="1.0"/><path d="M308.85,185.77H315.25M312.05,182.57V188.97" stroke="#ff0000" stroke-width="1.0"/><path d="M314.00,186.29H320.40M317.20,183.09V189.49" stroke="#ff0000" stroke-width="1.0"/><path d="M319.15,186.92H325.55M322.35,183.72V190.12" stroke="#ff0000" stroke-width="1.0"/><path d="M324.30,188.00H330.70M327.50,184.80V191.20" stroke="#ff0000" stroke-width="1.0"/>
<g clip-path="url(#c18)">
<path d="M23.65,24.00L28.80,29.00L33.95,34.00L39.10,38.25L44.25,42.50L49.40,45.75L54.55,49.00L59.70,53.25L64.85,57.50L70.00,61.50L75.15,65.50L80.30,68.75L85.45,72.00L90.60,75.50L95.75,79.00L100.90,83.33L106.05,87.67L111.20,92.00L116.35,95.14L121.50,98.29L126.65,101.43L131.80,104.21L136.95,106.64L142.10,109.07L147.25,111.50L152.40,113.00L157.55,114.50L162.70,116.00L167.85,117.50L173.00,119.00L178.15,120.50L183.30,122.00L188.45,123.11L193.60,124.22L198.75,125.33L203.90,126.29L209.05,127.00L214.20,130.67L219.35,133.43L224.50,135.30L229.65,135.84L234.80,136.38L239.95,137.10L245.10,138.10L250.25,139.10L255.40,140.00L260.55,140.85L265.70,141.70L270.85,142.11L276.00,142.51L281.15,142.98L286.30,143.57L291.45,144.16L296.60,144.71L301.75,145.23L306.90,145.75L312.05,147.44L317.20,149.40L322.35,150.33L327.50,150.20" fill="none" stroke="#00ffff" stroke-width="1" stroke-dasharray="4,3.5"/>
</g>
<path d="M20.35,22.20L26.95,22.20L23.65,28.00Z" fill="none" stroke="#00ffff" stroke-width="1.0"/><path d="M25.50,27.20L32.10,27.20L28.80,33.00Z" fill="none" stroke="#00ffff" stroke-width="1.0"/><path d="M30.65,32.20L37.25,32.20L33.95,38.00Z" fill="none" stroke="#00ffff" stroke-width="1.0"/><path d="M35.80,36.45L42.40,36.45L39.10,42.25Z" fill="none" stroke="#00ffff" stroke-width="1.0"/><path d="M40.95,40.70L47.55,40.70L44.25,46.50Z" fill="none" stroke="#00ffff" stroke-width="1.0"/><path d="M46.10,43.95L52.70,43.95L49.40,49.75Z" fill="none" stroke="#00ffff" stroke-width="1.0"/><path d="M51.25,47.20L57.85,47.20L54.55,53.00Z" fill="none" stroke="#00ffff" stroke-width="1.0"/><path d="M56.40,51.45L63.00,51.45L59.70,57.25Z" fill="none" stroke="#00ffff" stroke-width="1.0"/><path d="M61.55,55.70L68.15,55.70L64.85,61.50Z" fill="none" stroke="#00ffff" stroke-width="1.0"/><path d="M66.70,59.70L73.30,59.70L70.00,65.50Z" fill="none" stroke="#00ffff" stroke-width="1.0"/><path d="M71.85,63.70L78.45,63.70L75.15,69.50Z" fill="none" stroke="#00ffff" stroke-width="1.0"/><path d="M77.00,66.95L83.60,66.95L80.30,72.75Z" fill="none" stroke="#00ffff" stroke-width="1.0"/><path d="M82.15,70.20L88.75,70.20L85.45,76.00Z" fill="none" stroke="#00ffff" stroke-width="1.0"/><path d="M87.30,73.70L93.90,73.70L90.60,79.50Z" fill="none" stroke="#00ffff" stroke-width="1.0"/><path d="M92.45,77.20L99.05,77.20L95.75,83.00Z" fill="none" stroke="#00ffff" stroke-width="1.0"/><path d="M97.60,81.53L104.20,81.53L100.90,87.33Z" fill="none" stroke="#00ffff" stroke-width="1.0"/><path d="M102.75,85.87L109.35,85.87L106.05,91.67Z" fill="none" stroke="#00ffff" stroke-width="1.0"/><path d="M107.90,90.20L114.50,90.20L111.20,96.00Z" fill="none" stroke="#00ffff" stroke-width="1.0"/><path d="M113.05,93.34L119.65,93.34L116.35,99.14Z" fill="none" stroke="#00ffff" stroke-width="1.0"/><path d="M118.20,96.49L124.80,96.49L121.50,102.29Z" fill="none" stroke="#00ffff" stroke-width="1.0"/><path d="M123.35,99.63L129.95,99.63L126.65,105.43Z" fill="none" stroke="#00ffff" stroke-width="1.0"/><path d="M128.50,102.41L135.10,102.41L131.80,108.21Z" fill="none" stroke="#00ffff" stroke-width="1.0"/><path d="M133.65,104.84L140.25,104.84L136.95,110.64Z" fill="none" stroke="#00ffff" stroke-width="1.0"/><path d="M138.80,107.27L145.40,107.27L142.10,113.07Z" fill="none" stroke="#00ffff" stroke-width="1.0"/><path d="M143.95,109.70L150.55,109.70L147.25,115.50Z" fill="none" stroke="#00ffff" stroke-width="1.0"/><path d="M149.10,111.20L155.70,111.20L152.40,117.00Z" fill="none" stroke="#00ffff" stroke-width="1.0"/><path d="M154.25,112.70L160.85,112.70L157.55,118.50Z" fill="none" stroke="#00ffff" stroke-width="1.0"/><path d="M159.40,114.20L166.00,114.20L162.70,120.00Z" fill="none" stroke="#00ffff" stroke-width="1.0"/><path d="M164.55,115.70L171.15,115.70L167.85,121.50Z" fill="none" stroke="#00ffff" stroke-width="1.0"/><path d="M169.70,117.20L176.30,117.20L173.00,123.00Z" fill="none" stroke="#00ffff" stroke-width="1.0"/><path d="M174.85,118.70L181.45,118.70L178.15,124.50Z" fill="none" stroke="#00ffff" stroke-width="1.0"/><path d="M180.00,120.20L186.60,120.20L183.30,126.00Z" fill="none" stroke="#00ffff" stroke-width="1.0"/><path d="M185.15,121.31L191.75,121.31L188.45,127.11Z" fill="none" stroke="#00ffff" stroke-width="1.0"/><path d="M190.30,122.42L196.90,122.42L193.60,128.22Z" fill="none" stroke="#00ffff" stroke-width="1.0"/><path d="M195.45,123.53L202.05,123.53L198.75,129.33Z" fill="none" stroke="#00ffff" stroke-width="1.0"/><path d="M200.60,124.49L207.20,124.49L203.90,130.29Z" fill="none" stroke="#00ffff" stroke-width="1.0"/><path d="M205.75,125.20L212.35,125.20L209.05,131.00Z" fill="none" stroke="#00ffff" stroke-width="1.0"/><path d="M210.90,128.87L217.50,128.87L214.20,134.67Z" fill="none" stroke="#00ffff" stroke-width="1.0"/><path d="M216.05,131.63L222.65,131.63L219.35,137.43Z" fill="none" stroke="#00ffff" stroke-width="1.0"/><path d="M221.20,133.50L227.80,133.50L224.50,139.30Z" fill="none" stroke="#00ffff" stroke-width="1.0"/><path d="M226.35,134.04L232.95,134.04L229.65,139.84Z" fill="none" stroke="#00ffff" stroke-width="1.0"/><path d="M231.50,134.58L238.10,134.58L234.80,140.38Z" fill="none" stroke="#00ffff" stroke-width="1.0"/><path d="M236.65,135.30L243.25,135.30L239.95,141.10Z" fill="none" stroke="#00ffff" stroke-width="1.0"/><path d="M241.80,136.30L248.40,136.30L245.10,142.10Z" fill="none" stroke="#00ffff" stroke-width="1.0"/><path d="M246.95,137.30L253.55,137.30L250.25,143.10Z" fill="none" stroke="#00ffff" stroke-width="1.0"/><path d="M252.10,138.20L258.70,138.20L255.40,144.00Z" fill="none" stroke="#00ffff" stroke-width="1.0"/><path d="M257.25,139.05L263.85,139.05L260.55,144.85Z" fill="none" stroke="#00ffff" stroke-width="1.0"/><path d="M262.40,139.90L269.00,139.90L265.70,145.70Z" fill="none" stroke="#00ffff" stroke-width="1.0"/><path d="M267.55,140.31L274.15,140.31L270.85,146.11Z" fill="none" stroke="#00ffff" stroke-width="1.0"/><path d="M272.70,140.71L279.30,140.71L276.00,146.51Z" fill="none" stroke="#00ffff" stroke-width="1.0"/><path d="M277.85,141.18L284.45,141.18L281.15,146.98Z" fill="none" stroke="#00ffff" stroke-width="1.0"/><path d="M283.00,141.77L289.60,141.77L286.30,147.57Z" fill="none" stroke="#00ffff" stroke-width="1.0"/><path d="M288.15,142.36L294.75,142.36L291.45,148.16Z" fill="none" stroke="#00ffff" stroke-width="1.0"/><path d="M293.30,142.91L299.90,142.91L296.60,148.71Z" fill="none" stroke="#00ffff" stroke-width="1.0"/><path d="M298.45,143.43L305.05,143.43L301.75,149.23Z" fill="none" stroke="#00ffff" stroke-width="1.0"/><path d="M303.60,143.95L310.20,143.95L306.90,149.75Z" fill="none" stroke="#00ffff" stroke-width="1.0"/><path d="M308.75,145.64L315.35,145.64L312.05,151.44Z" fill="none" stroke="#00ffff" stroke-width="1.0"/><path d="M313.90,147.60L320.50,147.60L317.20,153.40Z" fill="none" stroke="#00ffff" stroke-width="1.0"/><path d="M319.05,148.53L325.65,148.53L322.35,154.33Z" fill="none" stroke="#00ffff" stroke-width="1.0"/><path d="M324.20,148.40L330.80,148.40L327.50,154.20Z" fill="none" stroke="#00ffff" stroke-width="1.0"/>
<text transform="translate(18.50 270.20) scale(0.97 0.97)" text-anchor="middle">0</text>
<text transform="translate(70.00 270.20) scale(0.97 0.97)" text-anchor="middle">10</text>
<text transform="translate(121.50 270.20) scale(0.97 0.97)" text-anchor="middle">20</text>
<text transform="translate(173.00 270.20) scale(0.97 0.97)" text-anchor="middle">30</text>
<text transform="translate(224.50 270.20) scale(0.97 0.97)" text-anchor="middle">40</text>
<text transform="translate(276.00 270.20) scale(0.97 0.97)" text-anchor="middle">50</text>
<text transform="translate(327.50 270.20) scale(0.97 0.97)" text-anchor="middle">60</text>
<text transform="translate(14.20 260.60) scale(0.97 0.97)" text-anchor="end">2.2</text>
<text transform="translate(14.20 219.90) scale(0.97 0.97)" text-anchor="end">2.4</text>
<text transform="translate(14.20 178.90) scale(0.97 0.97)" text-anchor="end">2.6</text>
<text transform="translate(14.20 138.80) scale(0.97 0.97)" text-anchor="end">2.8</text>
<text transform="translate(14.20 97.90) scale(0.97 0.97)" text-anchor="end">3</text>
<text transform="translate(14.20 58.00) scale(0.97 0.97)" text-anchor="end">3.2</text>
<text transform="translate(14.20 18.00) scale(0.97 0.97)" text-anchor="end">3.4</text>
<path d="M19.70,6.30L23.70,10.30M23.70,6.30L19.70,10.30" stroke="#262626" stroke-width="0.85" fill="none"/>
<text transform="translate(25.70 10.90) scale(1.07 1.0)" style="font-size:8.8px">10</text>
<text transform="translate(35.90 6.50) scale(1.0 1.0)" style="font-size:7px">4</text>
<rect x="237.5" y="20.5" width="82.60000000000002" height="72.8" fill="#fff" stroke="#787878" stroke-width="1"/>
<path d="M240.00,27.30H268.50" stroke="#ffff00" stroke-width="1"/>
<path d="M252.80,23.80L258.00,27.30L252.80,30.80Z" fill="none" stroke="#ffff00" stroke-width="1.0"/>
<text x="271.10" y="30.60" style="font-size:8.55px">HCOA</text>
<path d="M240.00,39.10H268.50" stroke="#000000" stroke-width="1"/>
<path d="M254.70,35.30L257.40,39.10L254.70,42.90L252.00,39.10Z" fill="none" stroke="#000000" stroke-width="1.15"/>
<text x="271.10" y="42.40" style="font-size:8.55px">BBPSO</text>
<path d="M240.00,50.90H268.50" stroke="#00ff00" stroke-width="1"/>
<circle cx="254.70" cy="50.90" r="3.0" fill="none" stroke="#00ff00" stroke-width="1.0"/>
<text x="271.10" y="54.20" style="font-size:8.55px">PBBPSO</text>
<path d="M240.00,62.70H268.50" stroke="#0000ff" stroke-width="1"/>
<path d="M251.90,62.70H257.50M254.70,59.90V65.50M252.60,60.60L256.80,64.80M252.60,64.80L256.80,60.60" stroke="#0000ff" stroke-width="1.25"/>
<text x="271.10" y="66.00" style="font-size:8.55px">DLSBBPSO</text>
<path d="M240.00,74.50H268.50" stroke="#ff0000" stroke-width="1" stroke-dasharray="4,3.5"/>
<path d="M251.50,74.50H257.90M254.70,71.30V77.70" stroke="#ff0000" stroke-width="1.0"/>
<text x="271.10" y="77.80" style="font-size:8.55px">TBBPSO</text>
<path d="M240.00,86.30H268.50" stroke="#00ffff" stroke-width="1" stroke-dasharray="4,3.5"/>
<path d="M251.40,84.50L258.00,84.50L254.70,90.30Z" fill="none" stroke="#00ffff" stroke-width="1.0"/>
<text x="271.10" y="89.60" style="font-size:8.55px">ETBBPSO</text>
<rect x="373.6" y="13.5" width="309.9" height="243.0" fill="none" stroke="#787878" stroke-width="1"/>
<path d="M442.47,256.5V253.5M442.47,13.5V16.5M511.33,256.5V253.5M511.33,13.5V16.5M580.20,256.5V253.5M580.20,13.5V16.5M649.07,256.5V253.5M649.07,13.5V16.5M373.6,53.50H377.1M683.5,53.50H680.0M373.6,94.50H377.1M683.5,94.50H680.0M373.6,135.50H377.1M683.5,135.50H680.0M373.6,175.50H377.1M683.5,175.50H680.0M373.6,216.50H377.1M683.5,216.50H680.0" stroke="#787878" stroke-width="1"/>
<clipPath id="c373"><rect x="373.6" y="13.5" width="309.9" height="243.0"/></clipPath>
<g clip-path="url(#c373)">
<path d="M380.49,244.90L387.37,245.22L394.26,245.55L401.15,245.88L408.03,246.20L414.92,246.42L421.81,246.63L428.69,246.85L435.58,247.07L442.47,247.22L449.35,247.27L456.24,247.32L463.13,247.37L470.01,247.42L476.90,247.46L483.79,247.51L490.67,247.56L497.56,247.61L504.45,247.66L511.33,247.75L518.22,247.99L525.11,248.23L531.99,248.51L538.88,248.90L545.77,249.28L552.65,249.66L559.54,250.04L566.43,250.42L573.31,250.80L580.20,251.53L587.09,252.03L593.97,252.29L600.86,252.55L607.75,252.82L614.63,253.08L621.52,253.34L628.41,253.60L635.29,253.88L642.18,254.15L649.07,254.42L655.95,254.70" fill="none" stroke="#ffff00" stroke-width="1"/>
</g>
<path d="M378.59,241.40L383.79,244.90L378.59,248.40Z" fill="none" stroke="#ffff00" stroke-width="1.0"/><path d="M385.47,241.72L390.67,245.22L385.47,248.72Z" fill="none" stroke="#ffff00" stroke-width="1.0"/><path d="M392.36,242.05L397.56,245.55L392.36,249.05Z" fill="none" stroke="#ffff00" stroke-width="1.0"/><path d="M399.25,242.38L404.45,245.88L399.25,249.38Z" fill="none" stroke="#ffff00" stroke-width="1.0"/><path d="M406.13,242.70L411.33,246.20L406.13,249.70Z" fill="none" stroke="#ffff00" stroke-width="1.0"/><path d="M413.02,242.92L418.22,246.42L413.02,249.92Z" fill="none" stroke="#ffff00" stroke-width="1.0"/><path d="M419.91,243.13L425.11,246.63L419.91,250.13Z" fill="none" stroke="#ffff00" stroke-width="1.0"/><path d="M426.79,243.35L431.99,246.85L426.79,250.35Z" fill="none" stroke="#ffff00" stroke-width="1.0"/><path d="M433.68,243.57L438.88,247.07L433.68,250.57Z" fill="none" stroke="#ffff00" stroke-width="1.0"/><path d="M440.57,243.72L445.77,247.22L440.57,250.72Z" fill="none" stroke="#ffff00" stroke-width="1.0"/><path d="M447.45,243.77L452.65,247.27L447.45,250.77Z" fill="none" stroke="#ffff00" stroke-width="1.0"/><path d="M454.34,243.82L459.54,247.32L454.34,250.82Z" fill="none" stroke="#ffff00" stroke-width="1.0"/><path d="M461.23,243.87L466.43,247.37L461.23,250.87Z" fill="none" stroke="#ffff00" stroke-width="1.0"/><path d="M468.11,243.92L473.31,247.42L468.11,250.92Z" fill="none" stroke="#ffff00" stroke-width="1.0"/><path d="M475.00,243.96L480.20,247.46L475.00,250.96Z" fill="none" stroke="#ffff00" stroke-width="1.0"/><path d="M481.89,244.01L487.09,247.51L481.89,251.01Z" fill="none" stroke="#ffff00" stroke-width="1.0"/><path d="M488.77,244.06L493.97,247.56L488.77,251.06Z" fill="none" stroke="#ffff00" stroke-width="1.0"/><path d="M495.66,244.11L500.86,247.61L495.66,251.11Z" fill="none" stroke="#ffff00" stroke-width="1.0"/><path d="M502.55,244.16L507.75,247.66L502.55,251.16Z" fill="none" stroke="#ffff00" stroke-width="1.0"/><path d="M509.43,244.25L514.63,247.75L509.43,251.25Z" fill="none" stroke="#ffff00" stroke-width="1.0"/><path d="M516.32,244.49L521.52,247.99L516.32,251.49Z" fill="none" stroke="#ffff00" stroke-width="1.0"/><path d="M523.21,244.73L528.41,248.23L523.21,251.73Z" fill="none" stroke="#ffff00" stroke-width="1.0"/><path d="M530.09,245.01L535.29,248.51L530.09,252.01Z" fill="none" stroke="#ffff00" stroke-width="1.0"/><path d="M536.98,245.40L542.18,248.90L536.98,252.40Z" fill="none" stroke="#ffff00" stroke-width="1.0"/><path d="M543.87,245.78L549.07,249.28L543.87,252.78Z" fill="none" stroke="#ffff00" stroke-width="1.0"/><path d="M550.75,246.16L555.95,249.66L550.75,253.16Z" fill="none" stroke="#ffff00" stroke-width="1.0"/><path d="M557.64,246.54L562.84,250.04L557.64,253.54Z" fill="none" stroke="#ffff00" stroke-width="1.0"/><path d="M564.53,246.92L569.73,250.42L564.53,253.92Z" fill="none" stroke="#ffff00" stroke-width="1.0"/><path d="M571.41,247.30L576.61,250.80L571.41,254.30Z" fill="none" stroke="#ffff00" stroke-width="1.0"/><path d="M578.30,248.03L583.50,251.53L578.30,255.03Z" fill="none" stroke="#ffff00" stroke-width="1.0"/><path d="M585.19,248.53L590.39,252.03L585.19,255.53Z" fill="none" stroke="#ffff00" stroke-width="1.0"/><path d="M592.07,248.79L597.27,252.29L592.07,255.79Z" fill="none" stroke="#ffff00" stroke-width="1.0"/><path d="M598.96,249.05L604.16,252.55L598.96,256.05Z" fill="none" stroke="#ffff00" stroke-width="1.0"/><path d="M605.85,249.32L611.05,252.82L605.85,256.32Z" fill="none" stroke="#ffff00" stroke-width="1.0"/><path d="M612.73,249.58L617.93,253.08L612.73,256.58Z" fill="none" stroke="#ffff00" stroke-width="1.0"/><path d="M619.62,249.84L624.82,253.34L619.62,256.84Z" fill="none" stroke="#ffff00" stroke-width="1.0"/><path d="M626.51,250.10L631.71,253.60L626.51,257.10Z" fill="none" stroke="#ffff00" stroke-width="1.0"/><path d="M633.39,250.38L638.59,253.88L633.39,257.38Z" fill="none" stroke="#ffff00" stroke-width="1.0"/><path d="M640.28,250.65L645.48,254.15L640.28,257.65Z" fill="none" stroke="#ffff00" stroke-width="1.0"/><path d="M647.17,250.92L652.37,254.42L647.17,257.92Z" fill="none" stroke="#ffff00" stroke-width="1.0"/><path d="M654.05,251.20L659.25,254.70L654.05,258.20Z" fill="none" stroke="#ffff00" stroke-width="1.0"/>
<g clip-path="url(#c373)">
<path d="M380.49,186.40L387.37,186.60L394.26,186.80L401.15,187.06L408.03,187.39L414.92,187.71L421.81,188.04L428.69,188.35L435.58,188.64L442.47,188.93L449.35,189.22L456.24,189.58L463.13,190.01L470.01,190.45L476.90,191.13L483.79,192.80L490.67,193.19L497.56,193.58L504.45,193.97L511.33,194.42L518.22,194.96L525.11,195.50L531.99,195.64L538.88,195.79L545.77,195.93L552.65,196.03L559.54,196.10L566.43,196.17L573.31,196.24L580.20,196.37L587.09,196.72L593.97,197.07L600.86,197.42L607.75,197.77L614.63,198.53L621.52,199.35L628.41,200.16L635.29,200.97L642.18,201.65L649.07,202.22L655.95,202.80" fill="none" stroke="#000000" stroke-width="1"/>
</g>
<path d="M380.49,182.60L383.19,186.40L380.49,190.20L377.79,186.40Z" fill="none" stroke="#000000" stroke-width="1.15"/><path d="M387.37,182.80L390.07,186.60L387.37,190.40L384.67,186.60Z" fill="none" stroke="#000000" stroke-width="1.15"/><path d="M394.26,183.00L396.96,186.80L394.26,190.60L391.56,186.80Z" fill="none" stroke="#000000" stroke-width="1.15"/><path d="M401.15,183.26L403.85,187.06L401.15,190.86L398.45,187.06Z" fill="none" stroke="#000000" stroke-width="1.15"/><path d="M408.03,183.59L410.73,187.39L408.03,191.19L405.33,187.39Z" fill="none" stroke="#000000" stroke-width="1.15"/><path d="M414.92,183.91L417.62,187.71L414.92,191.51L412.22,187.71Z" fill="none" stroke="#000000" stroke-width="1.15"/><path d="M421.81,184.24L424.51,188.04L421.81,191.84L419.11,188.04Z" fill="none" stroke="#000000" stroke-width="1.15"/><path d="M428.69,184.55L431.39,188.35L428.69,192.15L425.99,188.35Z" fill="none" stroke="#000000" stroke-width="1.15"/><path d="M435.58,184.84L438.28,188.64L435.58,192.44L432.88,188.64Z" fill="none" stroke="#000000" stroke-width="1.15"/><path d="M442.47,185.13L445.17,188.93L442.47,192.73L439.77,188.93Z" fill="none" stroke="#000000" stroke-width="1.15"/><path d="M449.35,185.42L452.05,189.22L449.35,193.02L446.65,189.22Z" fill="none" stroke="#000000" stroke-width="1.15"/><path d="M456.24,185.78L458.94,189.58L456.24,193.38L453.54,189.58Z" fill="none" stroke="#000000" stroke-width="1.15"/><path d="M463.13,186.21L465.83,190.01L463.13,193.81L460.43,190.01Z" fill="none" stroke="#000000" stroke-width="1.15"/><path d="M470.01,186.65L472.71,190.45L470.01,194.25L467.31,190.45Z" fill="none" stroke="#000000" stroke-width="1.15"/><path d="M476.90,187.33L479.60,191.13L476.90,194.93L474.20,191.13Z" fill="none" stroke="#000000" stroke-width="1.15"/><path d="M483.79,189.00L486.49,192.80L483.79,196.60L481.09,192.80Z" fill="none" stroke="#000000" stroke-width="1.15"/><path d="M490.67,189.39L493.37,193.19L490.67,196.99L487.97,193.19Z" fill="none" stroke="#000000" stroke-width="1.15"/><path d="M497.56,189.78L500.26,193.58L497.56,197.38L494.86,193.58Z" fill="none" stroke="#000000" stroke-width="1.15"/><path d="M504.45,190.17L507.15,193.97L504.45,197.77L501.75,193.97Z" fill="none" stroke="#000000" stroke-width="1.15"/><path d="M511.33,190.62L514.03,194.42L511.33,198.22L508.63,194.42Z" fill="none" stroke="#000000" stroke-width="1.15"/><path d="M518.22,191.16L520.92,194.96L518.22,198.76L515.52,194.96Z" fill="none" stroke="#000000" stroke-width="1.15"/><path d="M525.11,191.70L527.81,195.50L525.11,199.30L522.41,195.50Z" fill="none" stroke="#000000" stroke-width="1.15"/><path d="M531.99,191.84L534.69,195.64L531.99,199.44L529.29,195.64Z" fill="none" stroke="#000000" stroke-width="1.15"/><path d="M538.88,191.99L541.58,195.79L538.88,199.59L536.18,195.79Z" fill="none" stroke="#000000" stroke-width="1.15"/><path d="M545.77,192.13L548.47,195.93L545.77,199.73L543.07,195.93Z" fill="none" stroke="#000000" stroke-width="1.15"/><path d="M552.65,192.23L555.35,196.03L552.65,199.83L549.95,196.03Z" fill="none" stroke="#000000" stroke-width="1.15"/><path d="M559.54,192.30L562.24,196.10L559.54,199.90L556.84,196.10Z" fill="none" stroke="#000000" stroke-width="1.15"/><path d="M566.43,192.37L569.13,196.17L566.43,199.97L563.73,196.17Z" fill="none" stroke="#000000" stroke-width="1.15"/><path d="M573.31,192.44L576.01,196.24L573.31,200.04L570.61,196.24Z" fill="none" stroke="#000000" stroke-width="1.15"/><path d="M580.20,192.57L582.90,196.37L580.20,200.17L577.50,196.37Z" fill="none" stroke="#000000" stroke-width="1.15"/><path d="M587.09,192.92L589.79,196.72L587.09,200.52L584.39,196.72Z" fill="none" stroke="#000000" stroke-width="1.15"/><path d="M593.97,193.27L596.67,197.07L593.97,200.87L591.27,197.07Z" fill="none" stroke="#000000" stroke-width="1.15"/><path d="M600.86,193.62L603.56,197.42L600.86,201.22L598.16,197.42Z" fill="none" stroke="#000000" stroke-width="1.15"/><path d="M607.75,193.97L610.45,197.77L607.75,201.57L605.05,197.77Z" fill="none" stroke="#000000" stroke-width="1.15"/><path d="M614.63,194.73L617.33,198.53L614.63,202.33L611.93,198.53Z" fill="none" stroke="#000000" stroke-width="1.15"/><path d="M621.52,195.55L624.22,199.35L621.52,203.15L618.82,199.35Z" fill="none" stroke="#000000" stroke-width="1.15"/><path d="M628.41,196.36L631.11,200.16L628.41,203.96L625.71,200.16Z" fill="none" stroke="#000000" stroke-width="1.15"/><path d="M635.29,197.17L637.99,200.97L635.29,204.77L632.59,200.97Z" fill="none" stroke="#000000" stroke-width="1.15"/><path d="M642.18,197.85L644.88,201.65L642.18,205.45L639.48,201.65Z" fill="none" stroke="#000000" stroke-width="1.15"/><path d="M649.07,198.42L651.77,202.22L649.07,206.02L646.37,202.22Z" fill="none" stroke="#000000" stroke-width="1.15"/><path d="M655.95,199.00L658.65,202.80L655.95,206.60L653.25,202.80Z" fill="none" stroke="#000000" stroke-width="1.15"/>
<g clip-path="url(#c373)">
<path d="M380.49,50.00L387.37,50.60L394.26,51.20L401.15,51.64L408.03,51.91L414.92,52.19L421.81,52.46L428.69,52.71L435.58,52.93L442.47,53.15L449.35,53.37L456.24,53.58L463.13,53.78L470.01,53.98L476.90,54.18L483.79,54.50L490.67,55.00L497.56,56.20L504.45,56.83L511.33,57.24L518.22,57.34L525.11,57.44L531.99,57.55L538.88,57.65L545.77,57.75L552.65,58.00L559.54,58.41L566.43,58.79L573.31,59.07L580.20,59.32L587.09,59.43L593.97,59.54L600.86,59.64L607.75,59.75L614.63,59.86L621.52,59.96L628.41,60.07L635.29,60.18L642.18,60.29L649.07,60.39L655.95,60.50" fill="none" stroke="#00ff00" stroke-width="1"/>
</g>
<circle cx="380.49" cy="50.00" r="3.0" fill="none" stroke="#00ff00" stroke-width="1.0"/><circle cx="387.37" cy="50.60" r="3.0" fill="none" stroke="#00ff00" stroke-width="1.0"/><circle cx="394.26" cy="51.20" r="3.0" fill="none" stroke="#00ff00" stroke-width="1.0"/><circle cx="401.15" cy="51.64" r="3.0" fill="none" stroke="#00ff00" stroke-width="1.0"/><circle cx="408.03" cy="51.91" r="3.0" fill="none" stroke="#00ff00" stroke-width="1.0"/><circle cx="414.92" cy="52.19" r="3.0" fill="none" stroke="#00ff00" stroke-width="1.0"/><circle cx="421.81" cy="52.46" r="3.0" fill="none" stroke="#00ff00" stroke-width="1.0"/><circle cx="428.69" cy="52.71" r="3.0" fill="none" stroke="#00ff00" stroke-width="1.0"/><circle cx="435.58" cy="52.93" r="3.0" fill="none" stroke="#00ff00" stroke-width="1.0"/><circle cx="442.47" cy="53.15" r="3.0" fill="none" stroke="#00ff00" stroke-width="1.0"/><circle cx="449.35" cy="53.37" r="3.0" fill="none" stroke="#00ff00" stroke-width="1.0"/><circle cx="456.24" cy="53.58" r="3.0" fill="none" stroke="#00ff00" stroke-width="1.0"/><circle cx="463.13" cy="53.78" r="3.0" fill="none" stroke="#00ff00" stroke-width="1.0"/><circle cx="470.01" cy="53.98" r="3.0" fill="none" stroke="#00ff00" stroke-width="1.0"/><circle cx="476.90" cy="54.18" r="3.0" fill="none" stroke="#00ff00" stroke-width="1.0"/><circle cx="483.79" cy="54.50" r="3.0" fill="none" stroke="#00ff00" stroke-width="1.0"/><circle cx="490.67" cy="55.00" r="3.0" fill="none" stroke="#00ff00" stroke-width="1.0"/><circle cx="497.56" cy="56.20" r="3.0" fill="none" stroke="#00ff00" stroke-width="1.0"/><circle cx="504.45" cy="56.83" r="3.0" fill="none" stroke="#00ff00" stroke-width="1.0"/><circle cx="511.33" cy="57.24" r="3.0" fill="none" stroke="#00ff00" stroke-width="1.0"/><circle cx="518.22" cy="57.34" r="3.0" fill="none" stroke="#00ff00" stroke-width="1.0"/><circle cx="525.11" cy="57.44" r="3.0" fill="none" stroke="#00ff00" stroke-width="1.0"/><circle cx="531.99" cy="57.55" r="3.0" fill="none" stroke="#00ff00" stroke-width="1.0"/><circle cx="538.88" cy="57.65" r="3.0" fill="none" stroke="#00ff00" stroke-width="1.0"/><circle cx="545.77" cy="57.75" r="3.0" fill="none" stroke="#00ff00" stroke-width="1.0"/><circle cx="552.65" cy="58.00" r="3.0" fill="none" stroke="#00ff00" stroke-width="1.0"/><circle cx="559.54" cy="58.41" r="3.0" fill="none" stroke="#00ff00" stroke-width="1.0"/><circle cx="566.43" cy="58.79" r="3.0" fill="none" stroke="#00ff00" stroke-width="1.0"/><circle cx="573.31" cy="59.07" r="3.0" fill="none" stroke="#00ff00" stroke-width="1.0"/><circle cx="580.20" cy="59.32" r="3.0" fill="none" stroke="#00ff00" stroke-width="1.0"/><circle cx="587.09" cy="59.43" r="3.0" fill="none" stroke="#00ff00" stroke-width="1.0"/><circle cx="593.97" cy="59.54" r="3.0" fill="none" stroke="#00ff00" stroke-width="1.0"/><circle cx="600.86" cy="59.64" r="3.0" fill="none" stroke="#00ff00" stroke-width="1.0"/><circle cx="607.75" cy="59.75" r="3.0" fill="none" stroke="#00ff00" stroke-width="1.0"/><circle cx="614.63" cy="59.86" r="3.0" fill="none" stroke="#00ff00" stroke-width="1.0"/><circle cx="621.52" cy="59.96" r="3.0" fill="none" stroke="#00ff00" stroke-width="1.0"/><circle cx="628.41" cy="60.07" r="3.0" fill="none" stroke="#00ff00" stroke-width="1.0"/><circle cx="635.29" cy="60.18" r="3.0" fill="none" stroke="#00ff00" stroke-width="1.0"/><circle cx="642.18" cy="60.29" r="3.0" fill="none" stroke="#00ff00" stroke-width="1.0"/><circle cx="649.07" cy="60.39" r="3.0" fill="none" stroke="#00ff00" stroke-width="1.0"/><circle cx="655.95" cy="60.50" r="3.0" fill="none" stroke="#00ff00" stroke-width="1.0"/>
<g clip-path="url(#c373)">
<path d="M380.49,83.60L387.37,84.05L394.26,84.50L401.15,86.50L408.03,90.30L414.92,90.62L421.81,90.94L428.69,91.27L435.58,91.61L442.47,91.95L449.35,92.30L456.24,92.58L463.13,92.78L470.01,92.98L476.90,93.18L483.79,93.41L490.67,93.69L497.56,93.96L504.45,94.23L511.33,94.50L518.22,94.76L525.11,95.02L531.99,95.38L538.88,95.98L545.77,96.84L552.65,98.30L559.54,98.63L566.43,98.97L573.31,99.30L580.20,100.60L587.09,100.80L593.97,101.00L600.86,101.20L607.75,101.40L614.63,101.81L621.52,102.22L628.41,102.63L635.29,103.04L642.18,103.50L649.07,104.00L655.95,105.80" fill="none" stroke="#0000ff" stroke-width="1"/>
</g>
<path d="M377.69,83.60H383.29M380.49,80.80V86.40M378.39,81.50L382.59,85.70M378.39,85.70L382.59,81.50" stroke="#0000ff" stroke-width="1.25"/><path d="M384.57,84.05H390.17M387.37,81.25V86.85M385.27,81.95L389.47,86.15M385.27,86.15L389.47,81.95" stroke="#0000ff" stroke-width="1.25"/><path d="M391.46,84.50H397.06M394.26,81.70V87.30M392.16,82.40L396.36,86.60M392.16,86.60L396.36,82.40" stroke="#0000ff" stroke-width="1.25"/><path d="M398.35,86.50H403.95M401.15,83.70V89.30M399.05,84.40L403.25,88.60M399.05,88.60L403.25,84.40" stroke="#0000ff" stroke-width="1.25"/><path d="M405.23,90.30H410.83M408.03,87.50V93.10M405.93,88.20L410.13,92.40M405.93,92.40L410.13,88.20" stroke="#0000ff" stroke-width="1.25"/><path d="M412.12,90.62H417.72M414.92,87.82V93.42M412.82,88.52L417.02,92.72M412.82,92.72L417.02,88.52" stroke="#0000ff" stroke-width="1.25"/><path d="M419.01,90.94H424.61M421.81,88.14V93.74M419.71,88.84L423.91,93.04M419.71,93.04L423.91,88.84" stroke="#0000ff" stroke-width="1.25"/><path d="M425.89,91.27H431.49M428.69,88.47V94.07M426.59,89.17L430.79,93.37M426.59,93.37L430.79,89.17" stroke="#0000ff" stroke-width="1.25"/><path d="M432.78,91.61H438.38M435.58,88.81V94.41M433.48,89.51L437.68,93.71M433.48,93.71L437.68,89.51" stroke="#0000ff" stroke-width="1.25"/><path d="M439.67,91.95H445.27M442.47,89.15V94.75M440.37,89.85L444.57,94.05M440.37,94.05L444.57,89.85" stroke="#0000ff" stroke-width="1.25"/><path d="M446.55,92.30H452.15M449.35,89.50V95.10M447.25,90.20L451.45,94.40M447.25,94.40L451.45,90.20" stroke="#0000ff" stroke-width="1.25"/><path d="M453.44,92.58H459.04M456.24,89.78V95.38M454.14,90.48L458.34,94.68M454.14,94.68L458.34,90.48" stroke="#0000ff" stroke-width="1.25"/><path d="M460.33,92.78H465.93M463.13,89.98V95.58M461.03,90.68L465.23,94.88M461.03,94.88L465.23,90.68" stroke="#0000ff" stroke-width="1.25"/><path d="M467.21,92.98H472.81M470.01,90.18V95.78M467.91,90.88L472.11,95.08M467.91,95.08L472.11,90.88" stroke="#0000ff" stroke-width="1.25"/><path d="M474.10,93.18H479.70M476.90,90.38V95.98M474.80,91.08L479.00,95.28M474.80,95.28L479.00,91.08" stroke="#0000ff" stroke-width="1.25"/><path d="M480.99,93.41H486.59M483.79,90.61V96.21M481.69,91.31L485.89,95.51M481.69,95.51L485.89,91.31" stroke="#0000ff" stroke-width="1.25"/><path d="M487.87,93.69H493.47M490.67,90.89V96.48M488.57,91.59L492.77,95.78M488.57,95.78L492.77,91.59" stroke="#0000ff" stroke-width="1.25"/><path d="M494.76,93.96H500.36M497.56,91.16V96.76M495.46,91.86L499.66,96.06M495.46,96.06L499.66,91.86" stroke="#0000ff" stroke-width="1.25"/><path d="M501.65,94.23H507.25M504.45,91.44V97.03M502.35,92.14L506.55,96.33M502.35,96.33L506.55,92.14" stroke="#0000ff" stroke-width="1.25"/><path d="M508.53,94.50H514.13M511.33,91.70V97.30M509.23,92.40L513.43,96.60M509.23,96.60L513.43,92.40" stroke="#0000ff" stroke-width="1.25"/><path d="M515.42,94.76H521.02M518.22,91.96V97.56M516.12,92.66L520.32,96.86M516.12,96.86L520.32,92.66" stroke="#0000ff" stroke-width="1.25"/><path d="M522.31,95.02H527.91M525.11,92.22V97.82M523.01,92.92L527.21,97.12M523.01,97.12L527.21,92.92" stroke="#0000ff" stroke-width="1.25"/><path d="M529.19,95.38H534.79M531.99,92.58V98.18M529.89,93.28L534.09,97.48M529.89,97.48L534.09,93.28" stroke="#0000ff" stroke-width="1.25"/><path d="M536.08,95.98H541.68M538.88,93.18V98.78M536.78,93.88L540.98,98.08M536.78,98.08L540.98,93.88" stroke="#0000ff" stroke-width="1.25"/><path d="M542.97,96.84H548.57M545.77,94.04V99.64M543.67,94.74L547.87,98.94M543.67,98.94L547.87,94.74" stroke="#0000ff" stroke-width="1.25"/><path d="M549.85,98.30H555.45M552.65,95.50V101.10M550.55,96.20L554.75,100.40M550.55,100.40L554.75,96.20" stroke="#0000ff" stroke-width="1.25"/><path d="M556.74,98.63H562.34M559.54,95.83V101.43M557.44,96.53L561.64,100.73M557.44,100.73L561.64,96.53" stroke="#0000ff" stroke-width="1.25"/><path d="M563.63,98.97H569.23M566.43,96.17V101.77M564.33,96.87L568.53,101.07M564.33,101.07L568.53,96.87" stroke="#0000ff" stroke-width="1.25"/><path d="M570.51,99.30H576.11M573.31,96.50V102.10M571.21,97.20L575.41,101.40M571.21,101.40L575.41,97.20" stroke="#0000ff" stroke-width="1.25"/><path d="M577.40,100.60H583.00M580.20,97.80V103.40M578.10,98.50L582.30,102.70M578.10,102.70L582.30,98.50" stroke="#0000ff" stroke-width="1.25"/><path d="M584.29,100.80H589.89M587.09,98.00V103.60M584.99,98.70L589.19,102.90M584.99,102.90L589.19,98.70" stroke="#0000ff" stroke-width="1.25"/><path d="M591.17,101.00H596.77M593.97,98.20V103.80M591.87,98.90L596.07,103.10M591.87,103.10L596.07,98.90" stroke="#0000ff" stroke-width="1.25"/><path d="M598.06,101.20H603.66M600.86,98.40V104.00M598.76,99.10L602.96,103.30M598.76,103.30L602.96,99.10" stroke="#0000ff" stroke-width="1.25"/><path d="M604.95,101.40H610.55M607.75,98.60V104.20M605.65,99.30L609.85,103.50M605.65,103.50L609.85,99.30" stroke="#0000ff" stroke-width="1.25"/><path d="M611.83,101.81H617.43M614.63,99.01V104.61M612.53,99.71L616.73,103.91M612.53,103.91L616.73,99.71" stroke="#0000ff" stroke-width="1.25"/><path d="M618.72,102.22H624.32M621.52,99.42V105.02M619.42,100.12L623.62,104.32M619.42,104.32L623.62,100.12" stroke="#0000ff" stroke-width="1.25"/><path d="M625.61,102.63H631.21M628.41,99.83V105.43M626.31,100.53L630.51,104.73M626.31,104.73L630.51,100.53" stroke="#0000ff" stroke-width="1.25"/><path d="M632.49,103.04H638.09M635.29,100.24V105.84M633.19,100.94L637.39,105.14M633.19,105.14L637.39,100.94" stroke="#0000ff" stroke-width="1.25"/><path d="M639.38,103.50H644.98M642.18,100.70V106.30M640.08,101.40L644.28,105.60M640.08,105.60L644.28,101.40" stroke="#0000ff" stroke-width="1.25"/><path d="M646.27,104.00H651.87M649.07,101.20V106.80M646.97,101.90L651.17,106.10M646.97,106.10L651.17,101.90" stroke="#0000ff" stroke-width="1.25"/><path d="M653.15,105.80H658.75M655.95,103.00V108.60M653.85,103.70L658.05,107.90M653.85,107.90L658.05,103.70" stroke="#0000ff" stroke-width="1.25"/>
<g clip-path="url(#c373)">
<path d="M380.49,188.60L387.37,188.92L394.26,189.24L401.15,189.55L408.03,189.85L414.92,190.15L421.81,190.45L428.69,190.70L435.58,190.89L442.47,191.09L449.35,191.28L456.24,191.54L463.13,191.89L470.01,192.24L476.90,192.59L483.79,193.08L490.67,193.78L497.56,194.48L504.45,195.18L511.33,195.92L518.22,196.71L525.11,197.50L531.99,198.35L538.88,199.20L545.77,200.10L552.65,201.10L559.54,202.35L566.43,204.58L573.31,206.39L580.20,207.91L587.09,208.44L593.97,208.98L600.86,209.51L607.75,210.05L614.63,210.41L621.52,210.76L628.41,211.11L635.29,211.46L642.18,211.95L649.07,212.52L655.95,213.10" fill="none" stroke="#ff0000" stroke-width="1" stroke-dasharray="4,3.5"/>
</g>
<path d="M377.29,188.60H383.69M380.49,185.40V191.80" stroke="#ff0000" stroke-width="1.0"/><path d="M384.17,188.92H390.57M387.37,185.72V192.12" stroke="#ff0000" stroke-width="1.0"/><path d="M391.06,189.24H397.46M394.26,186.04V192.44" stroke="#ff0000" stroke-width="1.0"/><path d="M397.95,189.55H404.35M401.15,186.35V192.75" stroke="#ff0000" stroke-width="1.0"/><path d="M404.83,189.85H411.23M408.03,186.65V193.05" stroke="#ff0000" stroke-width="1.0"/><path d="M411.72,190.15H418.12M414.92,186.95V193.35" stroke="#ff0000" stroke-width="1.0"/><path d="M418.61,190.45H425.01M421.81,187.25V193.65" stroke="#ff0000" stroke-width="1.0"/><path d="M425.49,190.70H431.89M428.69,187.50V193.90" stroke="#ff0000" stroke-width="1.0"/><path d="M432.38,190.89H438.78M435.58,187.69V194.09" stroke="#ff0000" stroke-width="1.0"/><path d="M439.27,191.09H445.67M442.47,187.89V194.29" stroke="#ff0000" stroke-width="1.0"/><path d="M446.15,191.28H452.55M449.35,188.08V194.48" stroke="#ff0000" stroke-width="1.0"/><path d="M453.04,191.54H459.44M456.24,188.34V194.74" stroke="#ff0000" stroke-width="1.0"/><path d="M459.93,191.89H466.33M463.13,188.69V195.09" stroke="#ff0000" stroke-width="1.0"/><path d="M466.81,192.24H473.21M470.01,189.04V195.44" stroke="#ff0000" stroke-width="1.0"/><path d="M473.70,192.59H480.10M476.90,189.39V195.79" stroke="#ff0000" stroke-width="1.0"/><path d="M480.59,193.08H486.99M483.79,189.88V196.28" stroke="#ff0000" stroke-width="1.0"/><path d="M487.47,193.78H493.87M490.67,190.58V196.98" stroke="#ff0000" stroke-width="1.0"/><path d="M494.36,194.48H500.76M497.56,191.28V197.68" stroke="#ff0000" stroke-width="1.0"/><path d="M501.25,195.18H507.65M504.45,191.98V198.38" stroke="#ff0000" stroke-width="1.0"/><path d="M508.13,195.92H514.53M511.33,192.72V199.12" stroke="#ff0000" stroke-width="1.0"/><path d="M515.02,196.71H521.42M518.22,193.51V199.91" stroke="#ff0000" stroke-width="1.0"/><path d="M521.91,197.50H528.31M525.11,194.30V200.70" stroke="#ff0000" stroke-width="1.0"/><path d="M528.79,198.35H535.19M531.99,195.15V201.55" stroke="#ff0000" stroke-width="1.0"/><path d="M535.68,199.20H542.08M538.88,196.00V202.40" stroke="#ff0000" stroke-width="1.0"/><path d="M542.57,200.10H548.97M545.77,196.90V203.30" stroke="#ff0000" stroke-width="1.0"/><path d="M549.45,201.10H555.85M552.65,197.90V204.30" stroke="#ff0000" stroke-width="1.0"/><path d="M556.34,202.35H562.74M559.54,199.15V205.55" stroke="#ff0000" stroke-width="1.0"/><path d="M563.23,204.58H569.63M566.43,201.38V207.78" stroke="#ff0000" stroke-width="1.0"/><path d="M570.11,206.39H576.51M573.31,203.19V209.59" stroke="#ff0000" stroke-width="1.0"/><path d="M577.00,207.91H583.40M580.20,204.71V211.11" stroke="#ff0000" stroke-width="1.0"/><path d="M583.89,208.44H590.29M587.09,205.24V211.64" stroke="#ff0000" stroke-width="1.0"/><path d="M590.77,208.98H597.17M593.97,205.78V212.18" stroke="#ff0000" stroke-width="1.0"/><path d="M597.66,209.51H604.06M600.86,206.31V212.71" stroke="#ff0000" stroke-width="1.0"/><path d="M604.55,210.05H610.95M607.75,206.85V213.25" stroke="#ff0000" stroke-width="1.0"/><path d="M611.43,210.41H617.83M614.63,207.21V213.61" stroke="#ff0000" stroke-width="1.0"/><path d="M618.32,210.76H624.72M621.52,207.56V213.96" stroke="#ff0000" stroke-width="1.0"/><path d="M625.21,211.11H631.61M628.41,207.91V214.31" stroke="#ff0000" stroke-width="1.0"/><path d="M632.09,211.46H638.49M635.29,208.26V214.66" stroke="#ff0000" stroke-width="1.0"/><path d="M638.98,211.95H645.38M642.18,208.75V215.15" stroke="#ff0000" stroke-width="1.0"/><path d="M645.87,212.52H652.27M649.07,209.32V215.72" stroke="#ff0000" stroke-width="1.0"/><path d="M652.75,213.10H659.15M655.95,209.90V216.30" stroke="#ff0000" stroke-width="1.0"/>
<g clip-path="url(#c373)">
<path d="M380.49,150.60L387.37,152.50L394.26,154.37L401.15,155.85L408.03,156.95L414.92,157.97L421.81,158.93L428.69,159.90L435.58,160.90L442.47,161.92L449.35,162.97L456.24,164.01L463.13,165.23L470.01,169.86L476.90,173.47L483.79,175.43L490.67,177.07L497.56,179.14L504.45,180.30L511.33,181.70L518.22,183.90L525.11,184.32L531.99,185.33L538.88,187.20L545.77,188.94L552.65,189.79L559.54,190.64L566.43,191.42L573.31,191.62L580.20,191.89L587.09,192.74L593.97,193.60L600.86,194.46L607.75,195.31L614.63,196.32L621.52,197.34L628.41,198.37L635.29,199.39L642.18,200.82L649.07,202.51L655.95,204.20" fill="none" stroke="#00ffff" stroke-width="1" stroke-dasharray="4,3.5"/>
</g>
<path d="M377.19,148.80L383.79,148.80L380.49,154.60Z" fill="none" stroke="#00ffff" stroke-width="1.0"/><path d="M384.07,150.70L390.67,150.70L387.37,156.50Z" fill="none" stroke="#00ffff" stroke-width="1.0"/><path d="M390.96,152.57L397.56,152.57L394.26,158.37Z" fill="none" stroke="#00ffff" stroke-width="1.0"/><path d="M397.85,154.05L404.45,154.05L401.15,159.85Z" fill="none" stroke="#00ffff" stroke-width="1.0"/><path d="M404.73,155.15L411.33,155.15L408.03,160.95Z" fill="none" stroke="#00ffff" stroke-width="1.0"/><path d="M411.62,156.17L418.22,156.17L414.92,161.97Z" fill="none" stroke="#00ffff" stroke-width="1.0"/><path d="M418.51,157.12L425.11,157.12L421.81,162.93Z" fill="none" stroke="#00ffff" stroke-width="1.0"/><path d="M425.39,158.10L431.99,158.10L428.69,163.90Z" fill="none" stroke="#00ffff" stroke-width="1.0"/><path d="M432.28,159.10L438.88,159.10L435.58,164.90Z" fill="none" stroke="#00ffff" stroke-width="1.0"/><path d="M439.17,160.12L445.77,160.12L442.47,165.92Z" fill="none" stroke="#00ffff" stroke-width="1.0"/><path d="M446.05,161.17L452.65,161.17L449.35,166.97Z" fill="none" stroke="#00ffff" stroke-width="1.0"/><path d="M452.94,162.21L459.54,162.21L456.24,168.01Z" fill="none" stroke="#00ffff" stroke-width="1.0"/><path d="M459.83,163.43L466.43,163.43L463.13,169.23Z" fill="none" stroke="#00ffff" stroke-width="1.0"/><path d="M466.71,168.06L473.31,168.06L470.01,173.86Z" fill="none" stroke="#00ffff" stroke-width="1.0"/><path d="M473.60,171.67L480.20,171.67L476.90,177.47Z" fill="none" stroke="#00ffff" stroke-width="1.0"/><path d="M480.49,173.63L487.09,173.63L483.79,179.43Z" fill="none" stroke="#00ffff" stroke-width="1.0"/><path d="M487.37,175.27L493.97,175.27L490.67,181.07Z" fill="none" stroke="#00ffff" stroke-width="1.0"/><path d="M494.26,177.34L500.86,177.34L497.56,183.14Z" fill="none" stroke="#00ffff" stroke-width="1.0"/><path d="M501.15,178.50L507.75,178.50L504.45,184.30Z" fill="none" stroke="#00ffff" stroke-width="1.0"/><path d="M508.03,179.90L514.63,179.90L511.33,185.70Z" fill="none" stroke="#00ffff" stroke-width="1.0"/><path d="M514.92,182.10L521.52,182.10L518.22,187.90Z" fill="none" stroke="#00ffff" stroke-width="1.0"/><path d="M521.81,182.52L528.41,182.52L525.11,188.32Z" fill="none" stroke="#00ffff" stroke-width="1.0"/><path d="M528.69,183.53L535.29,183.53L531.99,189.33Z" fill="none" stroke="#00ffff" stroke-width="1.0"/><path d="M535.58,185.40L542.18,185.40L538.88,191.20Z" fill="none" stroke="#00ffff" stroke-width="1.0"/><path d="M542.47,187.14L549.07,187.14L545.77,192.94Z" fill="none" stroke="#00ffff" stroke-width="1.0"/><path d="M549.35,187.99L555.95,187.99L552.65,193.79Z" fill="none" stroke="#00ffff" stroke-width="1.0"/><path d="M556.24,188.84L562.84,188.84L559.54,194.64Z" fill="none" stroke="#00ffff" stroke-width="1.0"/><path d="M563.13,189.62L569.73,189.62L566.43,195.42Z" fill="none" stroke="#00ffff" stroke-width="1.0"/><path d="M570.01,189.82L576.61,189.82L573.31,195.62Z" fill="none" stroke="#00ffff" stroke-width="1.0"/><path d="M576.90,190.09L583.50,190.09L580.20,195.89Z" fill="none" stroke="#00ffff" stroke-width="1.0"/><path d="M583.79,190.94L590.39,190.94L587.09,196.74Z" fill="none" stroke="#00ffff" stroke-width="1.0"/><path d="M590.67,191.80L597.27,191.80L593.97,197.60Z" fill="none" stroke="#00ffff" stroke-width="1.0"/><path d="M597.56,192.66L604.16,192.66L600.86,198.46Z" fill="none" stroke="#00ffff" stroke-width="1.0"/><path d="M604.45,193.51L611.05,193.51L607.75,199.31Z" fill="none" stroke="#00ffff" stroke-width="1.0"/><path d="M611.33,194.52L617.93,194.52L614.63,200.32Z" fill="none" stroke="#00ffff" stroke-width="1.0"/><path d="M618.22,195.54L624.82,195.54L621.52,201.34Z" fill="none" stroke="#00ffff" stroke-width="1.0"/><path d="M625.11,196.57L631.71,196.57L628.41,202.37Z" fill="none" stroke="#00ffff" stroke-width="1.0"/><path d="M631.99,197.59L638.59,197.59L635.29,203.39Z" fill="none" stroke="#00ffff" stroke-width="1.0"/><path d="M638.88,199.02L645.48,199.02L642.18,204.82Z" fill="none" stroke="#00ffff" stroke-width="1.0"/><path d="M645.77,200.71L652.37,200.71L649.07,206.51Z" fill="none" stroke="#00ffff" stroke-width="1.0"/><path d="M652.65,202.40L659.25,202.40L655.95,208.20Z" fill="none" stroke="#00ffff" stroke-width="1.0"/>
<text transform="translate(373.60 270.20) scale(0.97 0.97)" text-anchor="middle">60</text>
<text transform="translate(442.47 270.20) scale(0.97 0.97)" text-anchor="middle">70</text>
<text transform="translate(511.33 270.20) scale(0.97 0.97)" text-anchor="middle">80</text>
<text transform="translate(580.20 270.20) scale(0.97 0.97)" text-anchor="middle">90</text>
<text transform="translate(649.07 270.20) scale(0.97 0.97)" text-anchor="middle">100</text>
<text transform="translate(369.30 260.60) scale(0.97 0.97)" text-anchor="end">2.2</text>
<text transform="translate(369.30 219.90) scale(0.97 0.97)" text-anchor="end">2.4</text>
<text transform="translate(369.30 178.90) scale(0.97 0.97)" text-anchor="end">2.6</text>
<text transform="translate(369.30 138.80) scale(0.97 0.97)" text-anchor="end">2.8</text>
<text transform="translate(369.30 97.90) scale(0.97 0.97)" text-anchor="end">3</text>
<text transform="translate(369.30 58.00) scale(0.97 0.97)" text-anchor="end">3.2</text>
<text transform="translate(369.30 18.00) scale(0.97 0.97)" text-anchor="end">3.4</text>
<path d="M375.20,6.30L379.20,10.30M379.20,6.30L375.20,10.30" stroke="#262626" stroke-width="0.85" fill="none"/>
<text transform="translate(381.20 10.90) scale(1.07 1.0)" style="font-size:8.8px">10</text>
<text transform="translate(391.40 6.50) scale(1.0 1.0)" style="font-size:7px">4</text>
<rect x="593.0" y="20.5" width="82.60000000000002" height="72.8" fill="#fff" stroke="#787878" stroke-width="1"/>
<path d="M595.50,27.30H624.00" stroke="#ffff00" stroke-width="1"/>
<path d="M608.30,23.80L613.50,27.30L608.30,30.80Z" fill="none" stroke="#ffff00" stroke-width="1.0"/>
<text x="626.60" y="30.60" style="font-size:8.55px">HCOA</text>
<path d="M595.50,39.10H624.00" stroke="#000000" stroke-width="1"/>
<path d="M610.20,35.30L612.90,39.10L610.20,42.90L607.50,39.10Z" fill="none" stroke="#000000" stroke-width="1.15"/>
<text x="626.60" y="42.40" style="font-size:8.55px">BBPSO</text>
<path d="M595.50,50.90H624.00" stroke="#00ff00" stroke-width="1"/>
<circle cx="610.20" cy="50.90" r="3.0" fill="none" stroke="#00ff00" stroke-width="1.0"/>
<text x="626.60" y="54.20" style="font-size:8.55px">PBBPSO</text>
<path d="M595.50,62.70H624.00" stroke="#0000ff" stroke-width="1"/>
<path d="M607.40,62.70H613.00M610.20,59.90V65.50M608.10,60.60L612.30,64.80M608.10,64.80L612.30,60.60" stroke="#0000ff" stroke-width="1.25"/>
<text x="626.60" y="66.00" style="font-size:8.55px">DLSBBPSO</text>
<path d="M595.50,74.50H624.00" stroke="#ff0000" stroke-width="1" stroke-dasharray="4,3.5"/>
<path d="M607.00,74.50H613.40M610.20,71.30V77.70" stroke="#ff0000" stroke-width="1.0"/>
<text x="626.60" y="77.80" style="font-size:8.55px">TBBPSO</text>
<path d="M595.50,86.30H624.00" stroke="#00ffff" stroke-width="1" stroke-dasharray="4,3.5"/>
<path d="M606.90,84.50L613.50,84.50L610.20,90.30Z" fill="none" stroke="#00ffff" stroke-width="1.0"/>
<text x="626.60" y="89.60" style="font-size:8.55px">ETBBPSO</text>
<text transform="translate(172.90 283.60) scale(1.12 0.97)" text-anchor="middle">(a)</text>
<text transform="translate(528.90 283.60) scale(1.12 0.97)" text-anchor="middle">(b)</text>
</svg>
</body></html>
